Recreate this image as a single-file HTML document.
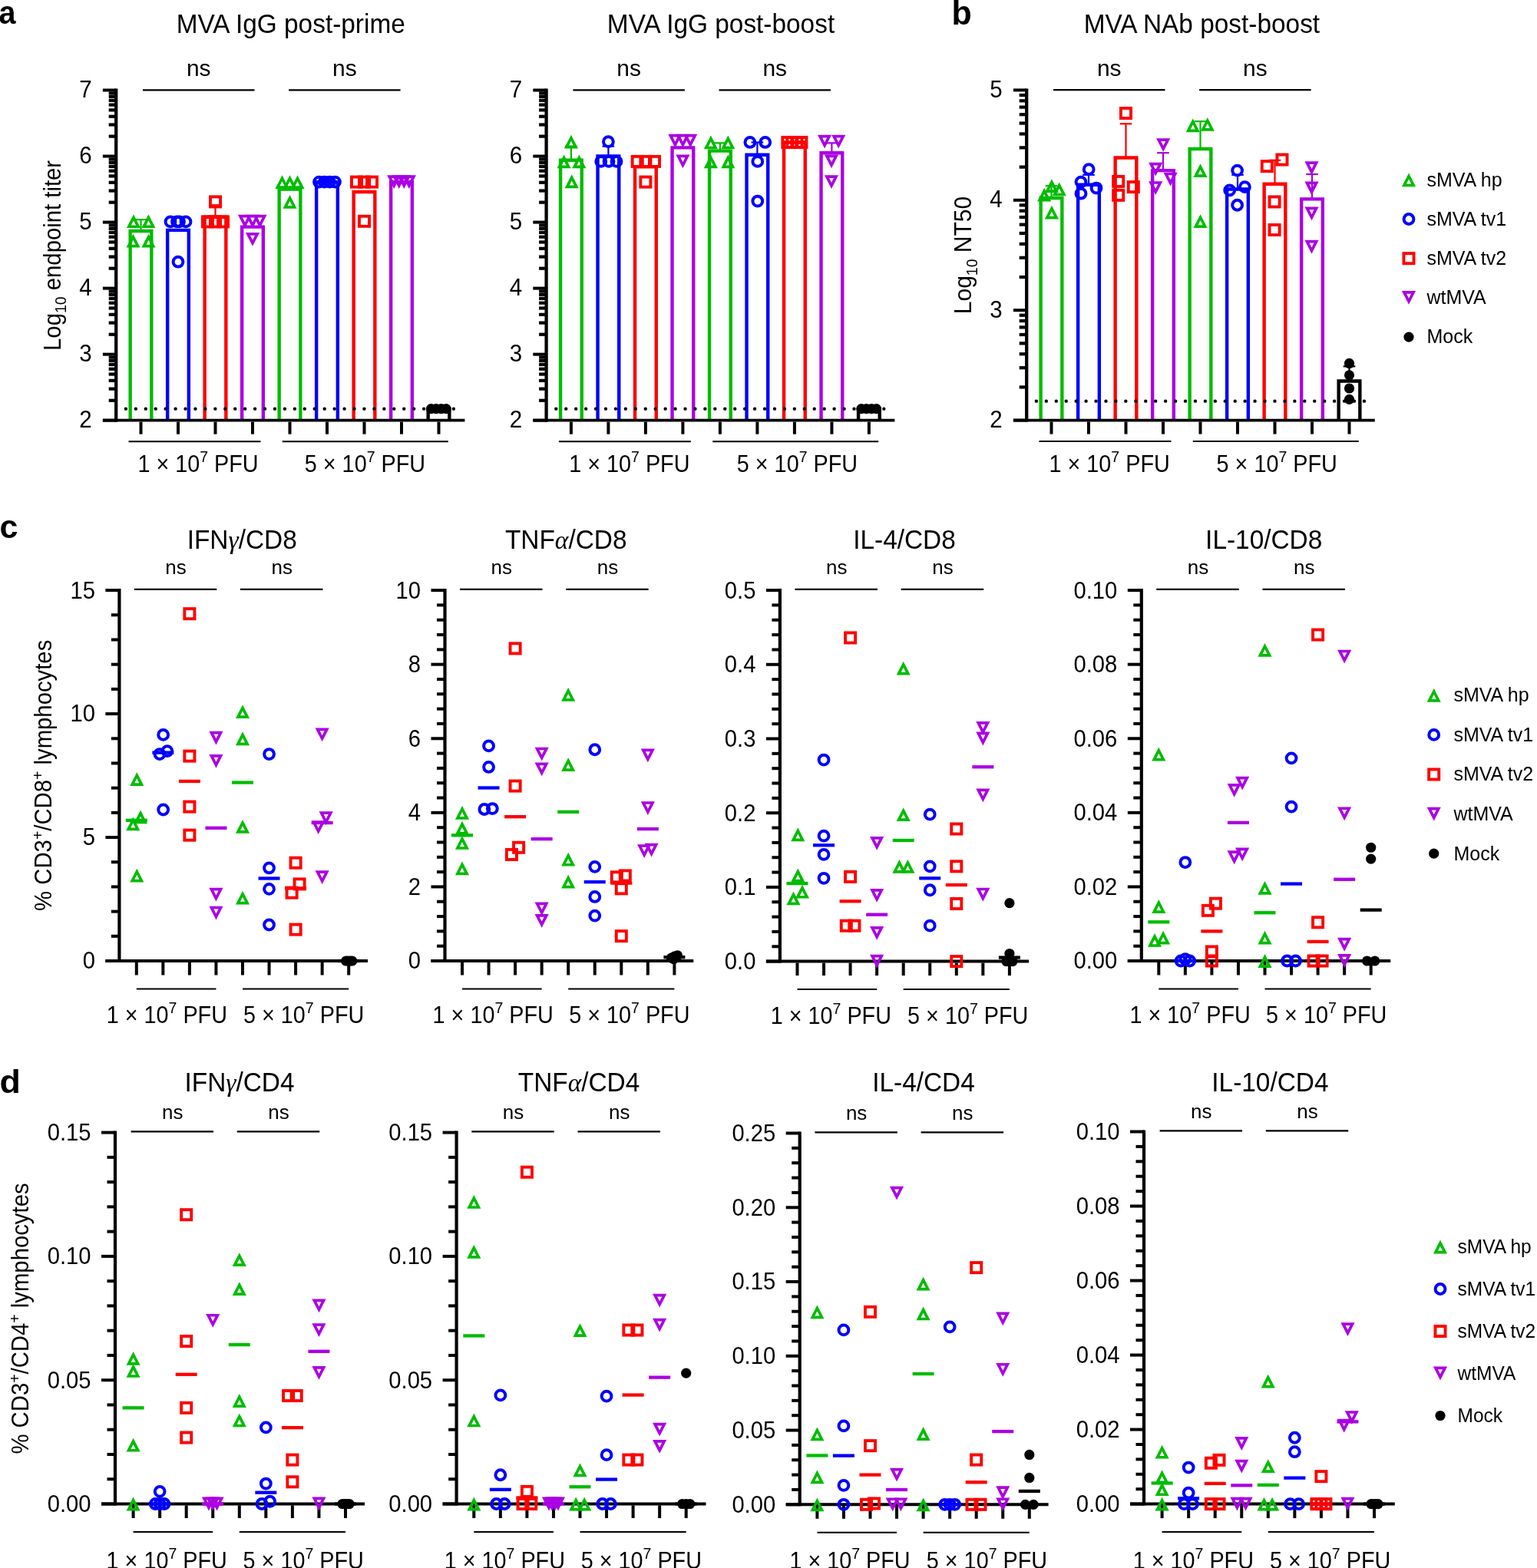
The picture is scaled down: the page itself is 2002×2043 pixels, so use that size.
<!DOCTYPE html>
<html><head><meta charset="utf-8"><title>Figure</title><style>html,body{margin:0;padding:0;background:#fff;}svg{display:block;}</style></head><body>
<svg width="2002" height="2043" viewBox="0 0 2002 2043" font-family="'Liberation Sans', Arial, Helvetica, sans-serif"><rect width="100%" height="100%" fill="#fff"/><path d="M169.65 547.7V300.94H197.35V547.7" fill="none" stroke="#00bc00" stroke-width="4.4" stroke-linejoin="miter"/>
<line x1="183.5" y1="300.94" x2="183.5" y2="286.14" stroke="#00bc00" stroke-width="2.2"/>
<line x1="175.7" y1="286.14" x2="191.3" y2="286.14" stroke="#00bc00" stroke-width="2.2"/>
<path d="M218.15 547.7V299.9H245.85V547.7" fill="none" stroke="#0000ff" stroke-width="4.4" stroke-linejoin="miter"/>
<path d="M266.65 547.7V282.7H294.35V547.7" fill="none" stroke="#ff0000" stroke-width="4.4" stroke-linejoin="miter"/>
<line x1="280.5" y1="282.7" x2="280.5" y2="267.21" stroke="#ff0000" stroke-width="2.2"/>
<line x1="272.7" y1="267.21" x2="288.3" y2="267.21" stroke="#ff0000" stroke-width="2.2"/>
<path d="M315.15 547.7V295.6H342.85V547.7" fill="none" stroke="#ab00e4" stroke-width="4.4" stroke-linejoin="miter"/>
<path d="M363.65 547.7V246.56H391.35V547.7" fill="none" stroke="#00bc00" stroke-width="4.4" stroke-linejoin="miter"/>
<path d="M412.15 547.7V237.1H439.85V547.7" fill="none" stroke="#0000ff" stroke-width="4.4" stroke-linejoin="miter"/>
<path d="M460.65 547.7V250H488.35V547.7" fill="none" stroke="#ff0000" stroke-width="4.4" stroke-linejoin="miter"/>
<path d="M509.15 547.7V237.1H536.85V547.7" fill="none" stroke="#ab00e4" stroke-width="4.4" stroke-linejoin="miter"/>
<path d="M557.65 547.7V532.64H585.35V547.7" fill="none" stroke="#000000" stroke-width="4.4" stroke-linejoin="miter"/>
<line x1="163.9" y1="532.64" x2="592.2" y2="532.64" stroke="#000000" stroke-width="4.4" stroke-linecap="round" stroke-dasharray="0 12.94"/>
<polygon points="174,283.37 167.92,295.25 180.08,295.25" fill="none" stroke="#00bc00" stroke-width="3.7"/>
<polygon points="193.4,283.37 187.32,295.25 199.48,295.25" fill="none" stroke="#00bc00" stroke-width="3.7"/>
<polygon points="173.5,308.84 167.42,320.72 179.58,320.72" fill="none" stroke="#00bc00" stroke-width="3.7"/>
<polygon points="193.5,308.84 187.42,320.72 199.58,320.72" fill="none" stroke="#00bc00" stroke-width="3.7"/>
<circle cx="222" cy="288.89" r="6.4" fill="none" stroke="#0000ff" stroke-width="4"/>
<circle cx="230.5" cy="288.89" r="6.4" fill="none" stroke="#0000ff" stroke-width="4"/>
<circle cx="233.5" cy="288.89" r="6.4" fill="none" stroke="#0000ff" stroke-width="4"/>
<circle cx="242" cy="288.89" r="6.4" fill="none" stroke="#0000ff" stroke-width="4"/>
<circle cx="232" cy="341.2" r="6.4" fill="none" stroke="#0000ff" stroke-width="4"/>
<rect x="263.95" y="282.34" width="13.1" height="13.1" fill="none" stroke="#ff0000" stroke-width="3.9"/>
<rect x="273.95" y="282.34" width="13.1" height="13.1" fill="none" stroke="#ff0000" stroke-width="3.9"/>
<rect x="283.95" y="282.34" width="13.1" height="13.1" fill="none" stroke="#ff0000" stroke-width="3.9"/>
<rect x="273.95" y="256.36" width="13.1" height="13.1" fill="none" stroke="#ff0000" stroke-width="3.9"/>
<polygon points="319,293.55 312.92,281.67 325.08,281.67" fill="none" stroke="#ab00e4" stroke-width="3.7"/>
<polygon points="329,293.55 322.92,281.67 335.08,281.67" fill="none" stroke="#ab00e4" stroke-width="3.7"/>
<polygon points="338.5,293.55 332.42,281.67 344.58,281.67" fill="none" stroke="#ab00e4" stroke-width="3.7"/>
<polygon points="329,316.78 322.92,304.9 335.08,304.9" fill="none" stroke="#ab00e4" stroke-width="3.7"/>
<polygon points="367.5,232.27 361.42,244.15 373.58,244.15" fill="none" stroke="#00bc00" stroke-width="3.7"/>
<polygon points="377.5,232.27 371.42,244.15 383.58,244.15" fill="none" stroke="#00bc00" stroke-width="3.7"/>
<polygon points="387.5,232.27 381.42,244.15 393.58,244.15" fill="none" stroke="#00bc00" stroke-width="3.7"/>
<polygon points="377.5,258.08 371.42,269.96 383.58,269.96" fill="none" stroke="#00bc00" stroke-width="3.7"/>
<circle cx="415.5" cy="237.1" r="6.4" fill="none" stroke="#0000ff" stroke-width="4"/>
<circle cx="422.5" cy="237.1" r="6.4" fill="none" stroke="#0000ff" stroke-width="4"/>
<circle cx="429.5" cy="237.1" r="6.4" fill="none" stroke="#0000ff" stroke-width="4"/>
<circle cx="436.5" cy="237.1" r="6.4" fill="none" stroke="#0000ff" stroke-width="4"/>
<rect x="457.95" y="230.55" width="13.1" height="13.1" fill="none" stroke="#ff0000" stroke-width="3.9"/>
<rect x="467.95" y="230.55" width="13.1" height="13.1" fill="none" stroke="#ff0000" stroke-width="3.9"/>
<rect x="477.95" y="230.55" width="13.1" height="13.1" fill="none" stroke="#ff0000" stroke-width="3.9"/>
<rect x="467.95" y="281.74" width="13.1" height="13.1" fill="none" stroke="#ff0000" stroke-width="3.9"/>
<polygon points="513.2,241.93 507.12,230.05 519.28,230.05" fill="none" stroke="#ab00e4" stroke-width="3.7"/>
<polygon points="519.7,241.93 513.62,230.05 525.78,230.05" fill="none" stroke="#ab00e4" stroke-width="3.7"/>
<polygon points="526.3,241.93 520.22,230.05 532.38,230.05" fill="none" stroke="#ab00e4" stroke-width="3.7"/>
<polygon points="532.8,241.93 526.72,230.05 538.88,230.05" fill="none" stroke="#ab00e4" stroke-width="3.7"/>
<circle cx="561.5" cy="532.64" r="6.6" fill="#000000"/>
<circle cx="568.1" cy="532.64" r="6.6" fill="#000000"/>
<circle cx="574.7" cy="532.64" r="6.6" fill="#000000"/>
<circle cx="581.1" cy="532.64" r="6.6" fill="#000000"/>
<line x1="151.2" y1="115.5" x2="151.2" y2="549.7" stroke="#000000" stroke-width="4.3"/>
<line x1="133.9" y1="547.7" x2="605.4" y2="547.7" stroke="#000000" stroke-width="3.8"/>
<line x1="133.9" y1="547.7" x2="151.2" y2="547.7" stroke="#000000" stroke-width="4"/>
<text transform="translate(119.7 557.3) scale(1 1.05)" font-size="29.5" text-anchor="end">2</text>
<line x1="141.7" y1="521.8" x2="151.2" y2="521.8" stroke="#000000" stroke-width="4.2"/>
<line x1="141.7" y1="506.65" x2="151.2" y2="506.65" stroke="#000000" stroke-width="4.2"/>
<line x1="141.7" y1="495.9" x2="151.2" y2="495.9" stroke="#000000" stroke-width="4.2"/>
<line x1="141.7" y1="487.56" x2="151.2" y2="487.56" stroke="#000000" stroke-width="4.2"/>
<line x1="141.7" y1="480.75" x2="151.2" y2="480.75" stroke="#000000" stroke-width="4.2"/>
<line x1="141.7" y1="474.99" x2="151.2" y2="474.99" stroke="#000000" stroke-width="4.2"/>
<line x1="141.7" y1="470" x2="151.2" y2="470" stroke="#000000" stroke-width="4.2"/>
<line x1="141.7" y1="465.6" x2="151.2" y2="465.6" stroke="#000000" stroke-width="4.2"/>
<line x1="133.9" y1="461.66" x2="151.2" y2="461.66" stroke="#000000" stroke-width="4"/>
<text transform="translate(119.7 471.26) scale(1 1.05)" font-size="29.5" text-anchor="end">3</text>
<line x1="141.7" y1="435.76" x2="151.2" y2="435.76" stroke="#000000" stroke-width="4.2"/>
<line x1="141.7" y1="420.61" x2="151.2" y2="420.61" stroke="#000000" stroke-width="4.2"/>
<line x1="141.7" y1="409.86" x2="151.2" y2="409.86" stroke="#000000" stroke-width="4.2"/>
<line x1="141.7" y1="401.52" x2="151.2" y2="401.52" stroke="#000000" stroke-width="4.2"/>
<line x1="141.7" y1="394.71" x2="151.2" y2="394.71" stroke="#000000" stroke-width="4.2"/>
<line x1="141.7" y1="388.95" x2="151.2" y2="388.95" stroke="#000000" stroke-width="4.2"/>
<line x1="141.7" y1="383.96" x2="151.2" y2="383.96" stroke="#000000" stroke-width="4.2"/>
<line x1="141.7" y1="379.56" x2="151.2" y2="379.56" stroke="#000000" stroke-width="4.2"/>
<line x1="133.9" y1="375.62" x2="151.2" y2="375.62" stroke="#000000" stroke-width="4"/>
<text transform="translate(119.7 385.22) scale(1 1.05)" font-size="29.5" text-anchor="end">4</text>
<line x1="141.7" y1="349.72" x2="151.2" y2="349.72" stroke="#000000" stroke-width="4.2"/>
<line x1="141.7" y1="334.57" x2="151.2" y2="334.57" stroke="#000000" stroke-width="4.2"/>
<line x1="141.7" y1="323.82" x2="151.2" y2="323.82" stroke="#000000" stroke-width="4.2"/>
<line x1="141.7" y1="315.48" x2="151.2" y2="315.48" stroke="#000000" stroke-width="4.2"/>
<line x1="141.7" y1="308.67" x2="151.2" y2="308.67" stroke="#000000" stroke-width="4.2"/>
<line x1="141.7" y1="302.91" x2="151.2" y2="302.91" stroke="#000000" stroke-width="4.2"/>
<line x1="141.7" y1="297.92" x2="151.2" y2="297.92" stroke="#000000" stroke-width="4.2"/>
<line x1="141.7" y1="293.52" x2="151.2" y2="293.52" stroke="#000000" stroke-width="4.2"/>
<line x1="133.9" y1="289.58" x2="151.2" y2="289.58" stroke="#000000" stroke-width="4"/>
<text transform="translate(119.7 299.18) scale(1 1.05)" font-size="29.5" text-anchor="end">5</text>
<line x1="141.7" y1="263.68" x2="151.2" y2="263.68" stroke="#000000" stroke-width="4.2"/>
<line x1="141.7" y1="248.53" x2="151.2" y2="248.53" stroke="#000000" stroke-width="4.2"/>
<line x1="141.7" y1="237.78" x2="151.2" y2="237.78" stroke="#000000" stroke-width="4.2"/>
<line x1="141.7" y1="229.44" x2="151.2" y2="229.44" stroke="#000000" stroke-width="4.2"/>
<line x1="141.7" y1="222.63" x2="151.2" y2="222.63" stroke="#000000" stroke-width="4.2"/>
<line x1="141.7" y1="216.87" x2="151.2" y2="216.87" stroke="#000000" stroke-width="4.2"/>
<line x1="141.7" y1="211.88" x2="151.2" y2="211.88" stroke="#000000" stroke-width="4.2"/>
<line x1="141.7" y1="207.48" x2="151.2" y2="207.48" stroke="#000000" stroke-width="4.2"/>
<line x1="133.9" y1="203.54" x2="151.2" y2="203.54" stroke="#000000" stroke-width="4"/>
<text transform="translate(119.7 213.14) scale(1 1.05)" font-size="29.5" text-anchor="end">6</text>
<line x1="141.7" y1="177.64" x2="151.2" y2="177.64" stroke="#000000" stroke-width="4.2"/>
<line x1="141.7" y1="162.49" x2="151.2" y2="162.49" stroke="#000000" stroke-width="4.2"/>
<line x1="141.7" y1="151.74" x2="151.2" y2="151.74" stroke="#000000" stroke-width="4.2"/>
<line x1="141.7" y1="143.4" x2="151.2" y2="143.4" stroke="#000000" stroke-width="4.2"/>
<line x1="141.7" y1="136.59" x2="151.2" y2="136.59" stroke="#000000" stroke-width="4.2"/>
<line x1="141.7" y1="130.83" x2="151.2" y2="130.83" stroke="#000000" stroke-width="4.2"/>
<line x1="141.7" y1="125.84" x2="151.2" y2="125.84" stroke="#000000" stroke-width="4.2"/>
<line x1="141.7" y1="121.44" x2="151.2" y2="121.44" stroke="#000000" stroke-width="4.2"/>
<line x1="133.9" y1="117.5" x2="151.2" y2="117.5" stroke="#000000" stroke-width="4"/>
<text transform="translate(119.7 127.1) scale(1 1.05)" font-size="29.5" text-anchor="end">7</text>
<line x1="183.5" y1="549.6" x2="183.5" y2="565.7" stroke="#000000" stroke-width="4"/>
<line x1="232" y1="549.6" x2="232" y2="565.7" stroke="#000000" stroke-width="4"/>
<line x1="280.5" y1="549.6" x2="280.5" y2="565.7" stroke="#000000" stroke-width="4"/>
<line x1="329" y1="549.6" x2="329" y2="565.7" stroke="#000000" stroke-width="4"/>
<line x1="377.5" y1="549.6" x2="377.5" y2="565.7" stroke="#000000" stroke-width="4"/>
<line x1="426" y1="549.6" x2="426" y2="565.7" stroke="#000000" stroke-width="4"/>
<line x1="474.5" y1="549.6" x2="474.5" y2="565.7" stroke="#000000" stroke-width="4"/>
<line x1="523" y1="549.6" x2="523" y2="565.7" stroke="#000000" stroke-width="4"/>
<line x1="571.5" y1="549.6" x2="571.5" y2="565.7" stroke="#000000" stroke-width="4"/>
<line x1="186" y1="117.3" x2="331.5" y2="117.3" stroke="#000000" stroke-width="2.2"/>
<text transform="translate(258.75 99) scale(1 1.01)" font-size="30" text-anchor="middle">ns</text>
<line x1="376.1" y1="117.3" x2="521.6" y2="117.3" stroke="#000000" stroke-width="2.2"/>
<text transform="translate(448.85 99) scale(1 1.01)" font-size="30" text-anchor="middle">ns</text>
<line x1="167.5" y1="575.2" x2="339.5" y2="575.2" stroke="#000000" stroke-width="2"/>
<line x1="367.8" y1="575.2" x2="583.8" y2="575.2" stroke="#000000" stroke-width="2"/>
<text transform="translate(179.4 615.2) scale(1 1.07)" font-size="28.8">1 × 10<tspan dy="-12" font-size="19.5">7</tspan><tspan dy="12"> PFU</tspan></text>
<text transform="translate(396.8 615.2) scale(1 1.07)" font-size="28.8">5 × 10<tspan dy="-12" font-size="19.5">7</tspan><tspan dy="12"> PFU</tspan></text>
<text transform="translate(378.7 42.8) scale(1 1.04)" font-size="33.4" text-anchor="middle">MVA IgG post-prime</text>
<path d="M730.05 547.7V208.7H757.75V547.7" fill="none" stroke="#00bc00" stroke-width="4.4" stroke-linejoin="miter"/>
<line x1="743.9" y1="208.7" x2="743.9" y2="190.63" stroke="#00bc00" stroke-width="2.2"/>
<line x1="736.1" y1="190.63" x2="751.7" y2="190.63" stroke="#00bc00" stroke-width="2.2"/>
<path d="M778.55 547.7V203.54H806.25V547.7" fill="none" stroke="#0000ff" stroke-width="4.4" stroke-linejoin="miter"/>
<line x1="792.4" y1="203.54" x2="792.4" y2="190.63" stroke="#0000ff" stroke-width="2.2"/>
<line x1="784.6" y1="190.63" x2="800.2" y2="190.63" stroke="#0000ff" stroke-width="2.2"/>
<path d="M827.05 547.7V217.31H854.75V547.7" fill="none" stroke="#ff0000" stroke-width="4.4" stroke-linejoin="miter"/>
<path d="M875.55 547.7V192.35H903.25V547.7" fill="none" stroke="#ab00e4" stroke-width="4.4" stroke-linejoin="miter"/>
<path d="M924.05 547.7V196.66H951.75V547.7" fill="none" stroke="#00bc00" stroke-width="4.4" stroke-linejoin="miter"/>
<line x1="937.9" y1="196.66" x2="937.9" y2="186.33" stroke="#00bc00" stroke-width="2.2"/>
<line x1="930.1" y1="186.33" x2="945.7" y2="186.33" stroke="#00bc00" stroke-width="2.2"/>
<path d="M972.55 547.7V201.82H1000.25V547.7" fill="none" stroke="#0000ff" stroke-width="4.4" stroke-linejoin="miter"/>
<line x1="986.4" y1="201.82" x2="986.4" y2="185.47" stroke="#0000ff" stroke-width="2.2"/>
<line x1="978.6" y1="185.47" x2="994.2" y2="185.47" stroke="#0000ff" stroke-width="2.2"/>
<path d="M1021.05 547.7V185.47H1048.75V547.7" fill="none" stroke="#ff0000" stroke-width="4.4" stroke-linejoin="miter"/>
<path d="M1069.55 547.7V199.24H1097.25V547.7" fill="none" stroke="#ab00e4" stroke-width="4.4" stroke-linejoin="miter"/>
<line x1="1083.4" y1="199.24" x2="1083.4" y2="186.33" stroke="#ab00e4" stroke-width="2.2"/>
<line x1="1075.6" y1="186.33" x2="1091.2" y2="186.33" stroke="#ab00e4" stroke-width="2.2"/>
<path d="M1118.05 547.7V532.64H1145.75V547.7" fill="none" stroke="#000000" stroke-width="4.4" stroke-linejoin="miter"/>
<line x1="724.3" y1="532.64" x2="1152.6" y2="532.64" stroke="#000000" stroke-width="4.4" stroke-linecap="round" stroke-dasharray="0 12.94"/>
<polygon points="743.9,179.78 737.82,191.66 749.98,191.66" fill="none" stroke="#00bc00" stroke-width="3.7"/>
<polygon points="734.6,205.59 728.52,217.47 740.68,217.47" fill="none" stroke="#00bc00" stroke-width="3.7"/>
<polygon points="754.3,205.59 748.22,217.47 760.38,217.47" fill="none" stroke="#00bc00" stroke-width="3.7"/>
<polygon points="744.7,231.41 738.62,243.29 750.78,243.29" fill="none" stroke="#00bc00" stroke-width="3.7"/>
<circle cx="792.4" cy="184.61" r="6.4" fill="none" stroke="#0000ff" stroke-width="4"/>
<circle cx="782.8" cy="210.42" r="6.4" fill="none" stroke="#0000ff" stroke-width="4"/>
<circle cx="793" cy="210.42" r="6.4" fill="none" stroke="#0000ff" stroke-width="4"/>
<circle cx="803" cy="210.42" r="6.4" fill="none" stroke="#0000ff" stroke-width="4"/>
<rect x="823.65" y="203.87" width="13.1" height="13.1" fill="none" stroke="#ff0000" stroke-width="3.9"/>
<rect x="834.35" y="203.87" width="13.1" height="13.1" fill="none" stroke="#ff0000" stroke-width="3.9"/>
<rect x="845.95" y="203.87" width="13.1" height="13.1" fill="none" stroke="#ff0000" stroke-width="3.9"/>
<rect x="834.35" y="230.55" width="13.1" height="13.1" fill="none" stroke="#ff0000" stroke-width="3.9"/>
<polygon points="879.4,188.58 873.32,176.7 885.48,176.7" fill="none" stroke="#ab00e4" stroke-width="3.7"/>
<polygon points="889.4,188.58 883.32,176.7 895.48,176.7" fill="none" stroke="#ab00e4" stroke-width="3.7"/>
<polygon points="899.2,188.58 893.12,176.7 905.28,176.7" fill="none" stroke="#ab00e4" stroke-width="3.7"/>
<polygon points="889.4,215.25 883.32,203.37 895.48,203.37" fill="none" stroke="#ab00e4" stroke-width="3.7"/>
<polygon points="925.9,180.64 919.82,192.52 931.98,192.52" fill="none" stroke="#00bc00" stroke-width="3.7"/>
<polygon points="948.3,180.64 942.22,192.52 954.38,192.52" fill="none" stroke="#00bc00" stroke-width="3.7"/>
<polygon points="925.9,205.59 919.82,217.47 931.98,217.47" fill="none" stroke="#00bc00" stroke-width="3.7"/>
<polygon points="948.3,205.59 942.22,217.47 954.38,217.47" fill="none" stroke="#00bc00" stroke-width="3.7"/>
<circle cx="976.9" cy="185.47" r="6.4" fill="none" stroke="#0000ff" stroke-width="4"/>
<circle cx="996.7" cy="185.47" r="6.4" fill="none" stroke="#0000ff" stroke-width="4"/>
<circle cx="986.8" cy="210.42" r="6.4" fill="none" stroke="#0000ff" stroke-width="4"/>
<circle cx="986.8" cy="262.05" r="6.4" fill="none" stroke="#0000ff" stroke-width="4"/>
<rect x="1019.35" y="178.92" width="13.1" height="13.1" fill="none" stroke="#ff0000" stroke-width="3.9"/>
<rect x="1025.35" y="178.92" width="13.1" height="13.1" fill="none" stroke="#ff0000" stroke-width="3.9"/>
<rect x="1031.35" y="178.92" width="13.1" height="13.1" fill="none" stroke="#ff0000" stroke-width="3.9"/>
<rect x="1037.35" y="178.92" width="13.1" height="13.1" fill="none" stroke="#ff0000" stroke-width="3.9"/>
<polygon points="1074.1,189.44 1068.02,177.56 1080.18,177.56" fill="none" stroke="#ab00e4" stroke-width="3.7"/>
<polygon points="1092.2,189.44 1086.12,177.56 1098.28,177.56" fill="none" stroke="#ab00e4" stroke-width="3.7"/>
<polygon points="1083,215.25 1076.92,203.37 1089.08,203.37" fill="none" stroke="#ab00e4" stroke-width="3.7"/>
<polygon points="1083,241.93 1076.92,230.05 1089.08,230.05" fill="none" stroke="#ab00e4" stroke-width="3.7"/>
<circle cx="1121.9" cy="532.64" r="6.6" fill="#000000"/>
<circle cx="1128.5" cy="532.64" r="6.6" fill="#000000"/>
<circle cx="1135.1" cy="532.64" r="6.6" fill="#000000"/>
<circle cx="1141.5" cy="532.64" r="6.6" fill="#000000"/>
<line x1="711.6" y1="115.5" x2="711.6" y2="549.7" stroke="#000000" stroke-width="4.3"/>
<line x1="694.3" y1="547.7" x2="1165.4" y2="547.7" stroke="#000000" stroke-width="3.8"/>
<line x1="694.3" y1="547.7" x2="711.6" y2="547.7" stroke="#000000" stroke-width="4"/>
<text transform="translate(680.1 557.3) scale(1 1.05)" font-size="29.5" text-anchor="end">2</text>
<line x1="702.1" y1="521.8" x2="711.6" y2="521.8" stroke="#000000" stroke-width="4.2"/>
<line x1="702.1" y1="506.65" x2="711.6" y2="506.65" stroke="#000000" stroke-width="4.2"/>
<line x1="702.1" y1="495.9" x2="711.6" y2="495.9" stroke="#000000" stroke-width="4.2"/>
<line x1="702.1" y1="487.56" x2="711.6" y2="487.56" stroke="#000000" stroke-width="4.2"/>
<line x1="702.1" y1="480.75" x2="711.6" y2="480.75" stroke="#000000" stroke-width="4.2"/>
<line x1="702.1" y1="474.99" x2="711.6" y2="474.99" stroke="#000000" stroke-width="4.2"/>
<line x1="702.1" y1="470" x2="711.6" y2="470" stroke="#000000" stroke-width="4.2"/>
<line x1="702.1" y1="465.6" x2="711.6" y2="465.6" stroke="#000000" stroke-width="4.2"/>
<line x1="694.3" y1="461.66" x2="711.6" y2="461.66" stroke="#000000" stroke-width="4"/>
<text transform="translate(680.1 471.26) scale(1 1.05)" font-size="29.5" text-anchor="end">3</text>
<line x1="702.1" y1="435.76" x2="711.6" y2="435.76" stroke="#000000" stroke-width="4.2"/>
<line x1="702.1" y1="420.61" x2="711.6" y2="420.61" stroke="#000000" stroke-width="4.2"/>
<line x1="702.1" y1="409.86" x2="711.6" y2="409.86" stroke="#000000" stroke-width="4.2"/>
<line x1="702.1" y1="401.52" x2="711.6" y2="401.52" stroke="#000000" stroke-width="4.2"/>
<line x1="702.1" y1="394.71" x2="711.6" y2="394.71" stroke="#000000" stroke-width="4.2"/>
<line x1="702.1" y1="388.95" x2="711.6" y2="388.95" stroke="#000000" stroke-width="4.2"/>
<line x1="702.1" y1="383.96" x2="711.6" y2="383.96" stroke="#000000" stroke-width="4.2"/>
<line x1="702.1" y1="379.56" x2="711.6" y2="379.56" stroke="#000000" stroke-width="4.2"/>
<line x1="694.3" y1="375.62" x2="711.6" y2="375.62" stroke="#000000" stroke-width="4"/>
<text transform="translate(680.1 385.22) scale(1 1.05)" font-size="29.5" text-anchor="end">4</text>
<line x1="702.1" y1="349.72" x2="711.6" y2="349.72" stroke="#000000" stroke-width="4.2"/>
<line x1="702.1" y1="334.57" x2="711.6" y2="334.57" stroke="#000000" stroke-width="4.2"/>
<line x1="702.1" y1="323.82" x2="711.6" y2="323.82" stroke="#000000" stroke-width="4.2"/>
<line x1="702.1" y1="315.48" x2="711.6" y2="315.48" stroke="#000000" stroke-width="4.2"/>
<line x1="702.1" y1="308.67" x2="711.6" y2="308.67" stroke="#000000" stroke-width="4.2"/>
<line x1="702.1" y1="302.91" x2="711.6" y2="302.91" stroke="#000000" stroke-width="4.2"/>
<line x1="702.1" y1="297.92" x2="711.6" y2="297.92" stroke="#000000" stroke-width="4.2"/>
<line x1="702.1" y1="293.52" x2="711.6" y2="293.52" stroke="#000000" stroke-width="4.2"/>
<line x1="694.3" y1="289.58" x2="711.6" y2="289.58" stroke="#000000" stroke-width="4"/>
<text transform="translate(680.1 299.18) scale(1 1.05)" font-size="29.5" text-anchor="end">5</text>
<line x1="702.1" y1="263.68" x2="711.6" y2="263.68" stroke="#000000" stroke-width="4.2"/>
<line x1="702.1" y1="248.53" x2="711.6" y2="248.53" stroke="#000000" stroke-width="4.2"/>
<line x1="702.1" y1="237.78" x2="711.6" y2="237.78" stroke="#000000" stroke-width="4.2"/>
<line x1="702.1" y1="229.44" x2="711.6" y2="229.44" stroke="#000000" stroke-width="4.2"/>
<line x1="702.1" y1="222.63" x2="711.6" y2="222.63" stroke="#000000" stroke-width="4.2"/>
<line x1="702.1" y1="216.87" x2="711.6" y2="216.87" stroke="#000000" stroke-width="4.2"/>
<line x1="702.1" y1="211.88" x2="711.6" y2="211.88" stroke="#000000" stroke-width="4.2"/>
<line x1="702.1" y1="207.48" x2="711.6" y2="207.48" stroke="#000000" stroke-width="4.2"/>
<line x1="694.3" y1="203.54" x2="711.6" y2="203.54" stroke="#000000" stroke-width="4"/>
<text transform="translate(680.1 213.14) scale(1 1.05)" font-size="29.5" text-anchor="end">6</text>
<line x1="702.1" y1="177.64" x2="711.6" y2="177.64" stroke="#000000" stroke-width="4.2"/>
<line x1="702.1" y1="162.49" x2="711.6" y2="162.49" stroke="#000000" stroke-width="4.2"/>
<line x1="702.1" y1="151.74" x2="711.6" y2="151.74" stroke="#000000" stroke-width="4.2"/>
<line x1="702.1" y1="143.4" x2="711.6" y2="143.4" stroke="#000000" stroke-width="4.2"/>
<line x1="702.1" y1="136.59" x2="711.6" y2="136.59" stroke="#000000" stroke-width="4.2"/>
<line x1="702.1" y1="130.83" x2="711.6" y2="130.83" stroke="#000000" stroke-width="4.2"/>
<line x1="702.1" y1="125.84" x2="711.6" y2="125.84" stroke="#000000" stroke-width="4.2"/>
<line x1="702.1" y1="121.44" x2="711.6" y2="121.44" stroke="#000000" stroke-width="4.2"/>
<line x1="694.3" y1="117.5" x2="711.6" y2="117.5" stroke="#000000" stroke-width="4"/>
<text transform="translate(680.1 127.1) scale(1 1.05)" font-size="29.5" text-anchor="end">7</text>
<line x1="743.9" y1="549.6" x2="743.9" y2="565.7" stroke="#000000" stroke-width="4"/>
<line x1="792.4" y1="549.6" x2="792.4" y2="565.7" stroke="#000000" stroke-width="4"/>
<line x1="840.9" y1="549.6" x2="840.9" y2="565.7" stroke="#000000" stroke-width="4"/>
<line x1="889.4" y1="549.6" x2="889.4" y2="565.7" stroke="#000000" stroke-width="4"/>
<line x1="937.9" y1="549.6" x2="937.9" y2="565.7" stroke="#000000" stroke-width="4"/>
<line x1="986.4" y1="549.6" x2="986.4" y2="565.7" stroke="#000000" stroke-width="4"/>
<line x1="1034.9" y1="549.6" x2="1034.9" y2="565.7" stroke="#000000" stroke-width="4"/>
<line x1="1083.4" y1="549.6" x2="1083.4" y2="565.7" stroke="#000000" stroke-width="4"/>
<line x1="1131.9" y1="549.6" x2="1131.9" y2="565.7" stroke="#000000" stroke-width="4"/>
<line x1="746.4" y1="117.3" x2="891.9" y2="117.3" stroke="#000000" stroke-width="2.2"/>
<text transform="translate(819.15 99) scale(1 1.01)" font-size="30" text-anchor="middle">ns</text>
<line x1="936.5" y1="117.3" x2="1082" y2="117.3" stroke="#000000" stroke-width="2.2"/>
<text transform="translate(1009.25 99) scale(1 1.01)" font-size="30" text-anchor="middle">ns</text>
<line x1="727.9" y1="575.2" x2="899.9" y2="575.2" stroke="#000000" stroke-width="2"/>
<line x1="928.2" y1="575.2" x2="1144.2" y2="575.2" stroke="#000000" stroke-width="2"/>
<text transform="translate(741.2 615.2) scale(1 1.07)" font-size="28.8">1 × 10<tspan dy="-12" font-size="19.5">7</tspan><tspan dy="12"> PFU</tspan></text>
<text transform="translate(959.8 615.2) scale(1 1.07)" font-size="28.8">5 × 10<tspan dy="-12" font-size="19.5">7</tspan><tspan dy="12"> PFU</tspan></text>
<text transform="translate(939 42.8) scale(1 1.04)" font-size="33.4" text-anchor="middle">MVA IgG post-boost</text>
<path d="M1355.65 547.6V257.93H1383.35V547.6" fill="none" stroke="#00bc00" stroke-width="4.4" stroke-linejoin="miter"/>
<line x1="1369.5" y1="257.93" x2="1369.5" y2="242.16" stroke="#00bc00" stroke-width="2.2"/>
<line x1="1361.7" y1="242.16" x2="1377.3" y2="242.16" stroke="#00bc00" stroke-width="2.2"/>
<path d="M1404.15 547.6V240.72H1431.85V547.6" fill="none" stroke="#0000ff" stroke-width="4.4" stroke-linejoin="miter"/>
<line x1="1418" y1="240.72" x2="1418" y2="227.82" stroke="#0000ff" stroke-width="2.2"/>
<line x1="1410.2" y1="227.82" x2="1425.8" y2="227.82" stroke="#0000ff" stroke-width="2.2"/>
<path d="M1452.65 547.6V205.45H1480.35V547.6" fill="none" stroke="#ff0000" stroke-width="4.4" stroke-linejoin="miter"/>
<line x1="1466.5" y1="205.45" x2="1466.5" y2="161.28" stroke="#ff0000" stroke-width="2.2"/>
<line x1="1458.7" y1="161.28" x2="1474.3" y2="161.28" stroke="#ff0000" stroke-width="2.2"/>
<path d="M1501.15 547.6V222.08H1528.85V547.6" fill="none" stroke="#ab00e4" stroke-width="4.4" stroke-linejoin="miter"/>
<line x1="1515" y1="222.08" x2="1515" y2="199.14" stroke="#ab00e4" stroke-width="2.2"/>
<line x1="1507.2" y1="199.14" x2="1522.8" y2="199.14" stroke="#ab00e4" stroke-width="2.2"/>
<path d="M1549.65 547.6V193.98H1577.35V547.6" fill="none" stroke="#00bc00" stroke-width="4.4" stroke-linejoin="miter"/>
<line x1="1563.5" y1="193.98" x2="1563.5" y2="158.13" stroke="#00bc00" stroke-width="2.2"/>
<line x1="1555.7" y1="158.13" x2="1571.3" y2="158.13" stroke="#00bc00" stroke-width="2.2"/>
<path d="M1598.15 547.6V246.46H1625.85V547.6" fill="none" stroke="#0000ff" stroke-width="4.4" stroke-linejoin="miter"/>
<line x1="1612" y1="246.46" x2="1612" y2="227.82" stroke="#0000ff" stroke-width="2.2"/>
<line x1="1604.2" y1="227.82" x2="1619.8" y2="227.82" stroke="#0000ff" stroke-width="2.2"/>
<path d="M1646.65 547.6V239.72H1674.35V547.6" fill="none" stroke="#ff0000" stroke-width="4.4" stroke-linejoin="miter"/>
<line x1="1660.5" y1="239.72" x2="1660.5" y2="208.75" stroke="#ff0000" stroke-width="2.2"/>
<line x1="1652.7" y1="208.75" x2="1668.3" y2="208.75" stroke="#ff0000" stroke-width="2.2"/>
<path d="M1695.15 547.6V259.37H1722.85V547.6" fill="none" stroke="#ab00e4" stroke-width="4.4" stroke-linejoin="miter"/>
<line x1="1709" y1="259.37" x2="1709" y2="226.96" stroke="#ab00e4" stroke-width="2.2"/>
<line x1="1701.2" y1="226.96" x2="1716.8" y2="226.96" stroke="#ab00e4" stroke-width="2.2"/>
<path d="M1743.65 547.6V496.55H1771.35V547.6" fill="none" stroke="#000000" stroke-width="4.4" stroke-linejoin="miter"/>
<line x1="1757.5" y1="496.55" x2="1757.5" y2="477.33" stroke="#000000" stroke-width="2.2"/>
<line x1="1749.7" y1="477.33" x2="1765.3" y2="477.33" stroke="#000000" stroke-width="2.2"/>
<line x1="1349.9" y1="522.65" x2="1778.2" y2="522.65" stroke="#000000" stroke-width="4.4" stroke-linecap="round" stroke-dasharray="0 12.94"/>
<polygon points="1369.9,237.33 1363.82,249.21 1375.98,249.21" fill="none" stroke="#00bc00" stroke-width="3.7"/>
<polygon points="1360.2,248.8 1354.12,260.68 1366.28,260.68" fill="none" stroke="#00bc00" stroke-width="3.7"/>
<polygon points="1379.7,241.63 1373.62,253.51 1385.78,253.51" fill="none" stroke="#00bc00" stroke-width="3.7"/>
<polygon points="1369.9,271.74 1363.82,283.62 1375.98,283.62" fill="none" stroke="#00bc00" stroke-width="3.7"/>
<circle cx="1418.2" cy="220.65" r="6.4" fill="none" stroke="#0000ff" stroke-width="4"/>
<circle cx="1408" cy="237.14" r="6.4" fill="none" stroke="#0000ff" stroke-width="4"/>
<circle cx="1428" cy="245.03" r="6.4" fill="none" stroke="#0000ff" stroke-width="4"/>
<circle cx="1408" cy="252.2" r="6.4" fill="none" stroke="#0000ff" stroke-width="4"/>
<rect x="1459.95" y="140.96" width="13.1" height="13.1" fill="none" stroke="#ff0000" stroke-width="3.9"/>
<rect x="1450.15" y="229.87" width="13.1" height="13.1" fill="none" stroke="#ff0000" stroke-width="3.9"/>
<rect x="1469.75" y="237.04" width="13.1" height="13.1" fill="none" stroke="#ff0000" stroke-width="3.9"/>
<rect x="1450.15" y="247.8" width="13.1" height="13.1" fill="none" stroke="#ff0000" stroke-width="3.9"/>
<polygon points="1515.2,193.93 1509.12,182.05 1521.28,182.05" fill="none" stroke="#ab00e4" stroke-width="3.7"/>
<polygon points="1505.2,225.48 1499.12,213.6 1511.28,213.6" fill="none" stroke="#ab00e4" stroke-width="3.7"/>
<polygon points="1524.6,238.38 1518.52,226.5 1530.68,226.5" fill="none" stroke="#ab00e4" stroke-width="3.7"/>
<polygon points="1505.2,249.86 1499.12,237.98 1511.28,237.98" fill="none" stroke="#ab00e4" stroke-width="3.7"/>
<polygon points="1553.8,158.46 1547.72,170.34 1559.88,170.34" fill="none" stroke="#00bc00" stroke-width="3.7"/>
<polygon points="1572.8,157.02 1566.72,168.9 1578.88,168.9" fill="none" stroke="#00bc00" stroke-width="3.7"/>
<polygon points="1563.5,217.25 1557.42,229.13 1569.58,229.13" fill="none" stroke="#00bc00" stroke-width="3.7"/>
<polygon points="1563.5,283.22 1557.42,295.1 1569.58,295.1" fill="none" stroke="#00bc00" stroke-width="3.7"/>
<circle cx="1611.6" cy="222.08" r="6.4" fill="none" stroke="#0000ff" stroke-width="4"/>
<circle cx="1601.7" cy="247.89" r="6.4" fill="none" stroke="#0000ff" stroke-width="4"/>
<circle cx="1621.4" cy="243.59" r="6.4" fill="none" stroke="#0000ff" stroke-width="4"/>
<circle cx="1611.6" cy="267.25" r="6.4" fill="none" stroke="#0000ff" stroke-width="4"/>
<rect x="1663.45" y="201.48" width="13.1" height="13.1" fill="none" stroke="#ff0000" stroke-width="3.9"/>
<rect x="1643.75" y="210.08" width="13.1" height="13.1" fill="none" stroke="#ff0000" stroke-width="3.9"/>
<rect x="1653.55" y="256.4" width="13.1" height="13.1" fill="none" stroke="#ff0000" stroke-width="3.9"/>
<rect x="1653.55" y="292.97" width="13.1" height="13.1" fill="none" stroke="#ff0000" stroke-width="3.9"/>
<polygon points="1708.5,224.04 1702.42,212.16 1714.58,212.16" fill="none" stroke="#ab00e4" stroke-width="3.7"/>
<polygon points="1708.5,250.29 1702.42,238.41 1714.58,238.41" fill="none" stroke="#ab00e4" stroke-width="3.7"/>
<polygon points="1708.5,283.27 1702.42,271.39 1714.58,271.39" fill="none" stroke="#ab00e4" stroke-width="3.7"/>
<polygon points="1708.5,326.57 1702.42,314.69 1714.58,314.69" fill="none" stroke="#ab00e4" stroke-width="3.7"/>
<circle cx="1757.5" cy="473.46" r="6.6" fill="#000000"/>
<circle cx="1757.5" cy="488.81" r="6.6" fill="#000000"/>
<circle cx="1757.5" cy="506.01" r="6.6" fill="#000000"/>
<circle cx="1757.5" cy="520.35" r="6.6" fill="#000000"/>
<line x1="1337.2" y1="115.4" x2="1337.2" y2="549.6" stroke="#000000" stroke-width="4.3"/>
<line x1="1319.9" y1="547.6" x2="1790.8" y2="547.6" stroke="#000000" stroke-width="3.8"/>
<line x1="1319.9" y1="547.6" x2="1337.2" y2="547.6" stroke="#000000" stroke-width="4"/>
<text transform="translate(1305.7 557.2) scale(1 1.05)" font-size="29.5" text-anchor="end">2</text>
<line x1="1327.7" y1="504.43" x2="1337.2" y2="504.43" stroke="#000000" stroke-width="4.2"/>
<line x1="1327.7" y1="479.18" x2="1337.2" y2="479.18" stroke="#000000" stroke-width="4.2"/>
<line x1="1327.7" y1="461.26" x2="1337.2" y2="461.26" stroke="#000000" stroke-width="4.2"/>
<line x1="1327.7" y1="447.37" x2="1337.2" y2="447.37" stroke="#000000" stroke-width="4.2"/>
<line x1="1327.7" y1="436.01" x2="1337.2" y2="436.01" stroke="#000000" stroke-width="4.2"/>
<line x1="1327.7" y1="426.41" x2="1337.2" y2="426.41" stroke="#000000" stroke-width="4.2"/>
<line x1="1327.7" y1="418.1" x2="1337.2" y2="418.1" stroke="#000000" stroke-width="4.2"/>
<line x1="1327.7" y1="410.76" x2="1337.2" y2="410.76" stroke="#000000" stroke-width="4.2"/>
<line x1="1319.9" y1="404.2" x2="1337.2" y2="404.2" stroke="#000000" stroke-width="4"/>
<text transform="translate(1305.7 413.8) scale(1 1.05)" font-size="29.5" text-anchor="end">3</text>
<line x1="1327.7" y1="361.03" x2="1337.2" y2="361.03" stroke="#000000" stroke-width="4.2"/>
<line x1="1327.7" y1="335.78" x2="1337.2" y2="335.78" stroke="#000000" stroke-width="4.2"/>
<line x1="1327.7" y1="317.86" x2="1337.2" y2="317.86" stroke="#000000" stroke-width="4.2"/>
<line x1="1327.7" y1="303.97" x2="1337.2" y2="303.97" stroke="#000000" stroke-width="4.2"/>
<line x1="1327.7" y1="292.61" x2="1337.2" y2="292.61" stroke="#000000" stroke-width="4.2"/>
<line x1="1327.7" y1="283.01" x2="1337.2" y2="283.01" stroke="#000000" stroke-width="4.2"/>
<line x1="1327.7" y1="274.7" x2="1337.2" y2="274.7" stroke="#000000" stroke-width="4.2"/>
<line x1="1327.7" y1="267.36" x2="1337.2" y2="267.36" stroke="#000000" stroke-width="4.2"/>
<line x1="1319.9" y1="260.8" x2="1337.2" y2="260.8" stroke="#000000" stroke-width="4"/>
<text transform="translate(1305.7 270.4) scale(1 1.05)" font-size="29.5" text-anchor="end">4</text>
<line x1="1327.7" y1="217.63" x2="1337.2" y2="217.63" stroke="#000000" stroke-width="4.2"/>
<line x1="1327.7" y1="192.38" x2="1337.2" y2="192.38" stroke="#000000" stroke-width="4.2"/>
<line x1="1327.7" y1="174.46" x2="1337.2" y2="174.46" stroke="#000000" stroke-width="4.2"/>
<line x1="1327.7" y1="160.57" x2="1337.2" y2="160.57" stroke="#000000" stroke-width="4.2"/>
<line x1="1327.7" y1="149.21" x2="1337.2" y2="149.21" stroke="#000000" stroke-width="4.2"/>
<line x1="1327.7" y1="139.61" x2="1337.2" y2="139.61" stroke="#000000" stroke-width="4.2"/>
<line x1="1327.7" y1="131.3" x2="1337.2" y2="131.3" stroke="#000000" stroke-width="4.2"/>
<line x1="1327.7" y1="123.96" x2="1337.2" y2="123.96" stroke="#000000" stroke-width="4.2"/>
<line x1="1319.9" y1="117.4" x2="1337.2" y2="117.4" stroke="#000000" stroke-width="4"/>
<text transform="translate(1305.7 127) scale(1 1.05)" font-size="29.5" text-anchor="end">5</text>
<line x1="1369.5" y1="549.5" x2="1369.5" y2="565.6" stroke="#000000" stroke-width="4"/>
<line x1="1418" y1="549.5" x2="1418" y2="565.6" stroke="#000000" stroke-width="4"/>
<line x1="1466.5" y1="549.5" x2="1466.5" y2="565.6" stroke="#000000" stroke-width="4"/>
<line x1="1515" y1="549.5" x2="1515" y2="565.6" stroke="#000000" stroke-width="4"/>
<line x1="1563.5" y1="549.5" x2="1563.5" y2="565.6" stroke="#000000" stroke-width="4"/>
<line x1="1612" y1="549.5" x2="1612" y2="565.6" stroke="#000000" stroke-width="4"/>
<line x1="1660.5" y1="549.5" x2="1660.5" y2="565.6" stroke="#000000" stroke-width="4"/>
<line x1="1709" y1="549.5" x2="1709" y2="565.6" stroke="#000000" stroke-width="4"/>
<line x1="1757.5" y1="549.5" x2="1757.5" y2="565.6" stroke="#000000" stroke-width="4"/>
<line x1="1372" y1="117.2" x2="1517.5" y2="117.2" stroke="#000000" stroke-width="2.2"/>
<text transform="translate(1444.75 99) scale(1 1.01)" font-size="30" text-anchor="middle">ns</text>
<line x1="1562.1" y1="117.2" x2="1707.6" y2="117.2" stroke="#000000" stroke-width="2.2"/>
<text transform="translate(1634.85 99) scale(1 1.01)" font-size="30" text-anchor="middle">ns</text>
<line x1="1353.5" y1="575.1" x2="1525.5" y2="575.1" stroke="#000000" stroke-width="2"/>
<line x1="1553.8" y1="575.1" x2="1769.8" y2="575.1" stroke="#000000" stroke-width="2"/>
<text transform="translate(1366.5 615.1) scale(1 1.07)" font-size="28.8">1 × 10<tspan dy="-12" font-size="19.5">7</tspan><tspan dy="12"> PFU</tspan></text>
<text transform="translate(1584.6 615.1) scale(1 1.07)" font-size="28.8">5 × 10<tspan dy="-12" font-size="19.5">7</tspan><tspan dy="12"> PFU</tspan></text>
<text transform="translate(1565.4 43.2) scale(1 1.04)" font-size="33.4" text-anchor="middle">MVA NAb post-boost</text>
<line x1="155.4" y1="767.1" x2="155.4" y2="1254" stroke="#000000" stroke-width="4.2"/>
<line x1="137.4" y1="1252" x2="479" y2="1252" stroke="#000000" stroke-width="4"/>
<line x1="137.4" y1="1252" x2="155.4" y2="1252" stroke="#000000" stroke-width="4"/>
<text transform="translate(123.9 1262.4) scale(1 1.05)" font-size="29.2" text-anchor="end">0</text>
<line x1="137.4" y1="1091.03" x2="155.4" y2="1091.03" stroke="#000000" stroke-width="4"/>
<text transform="translate(123.9 1101.43) scale(1 1.05)" font-size="29.2" text-anchor="end">5</text>
<line x1="137.4" y1="930.07" x2="155.4" y2="930.07" stroke="#000000" stroke-width="4"/>
<text transform="translate(123.9 940.47) scale(1 1.05)" font-size="29.2" text-anchor="end">10</text>
<line x1="137.4" y1="769.1" x2="155.4" y2="769.1" stroke="#000000" stroke-width="4"/>
<text transform="translate(123.9 779.5) scale(1 1.05)" font-size="29.2" text-anchor="end">15</text>
<line x1="144.9" y1="1219.81" x2="155.4" y2="1219.81" stroke="#000000" stroke-width="4"/>
<line x1="144.9" y1="1187.61" x2="155.4" y2="1187.61" stroke="#000000" stroke-width="4"/>
<line x1="144.9" y1="1155.42" x2="155.4" y2="1155.42" stroke="#000000" stroke-width="4"/>
<line x1="144.9" y1="1123.23" x2="155.4" y2="1123.23" stroke="#000000" stroke-width="4"/>
<line x1="144.9" y1="1058.84" x2="155.4" y2="1058.84" stroke="#000000" stroke-width="4"/>
<line x1="144.9" y1="1026.65" x2="155.4" y2="1026.65" stroke="#000000" stroke-width="4"/>
<line x1="144.9" y1="994.45" x2="155.4" y2="994.45" stroke="#000000" stroke-width="4"/>
<line x1="144.9" y1="962.26" x2="155.4" y2="962.26" stroke="#000000" stroke-width="4"/>
<line x1="144.9" y1="897.87" x2="155.4" y2="897.87" stroke="#000000" stroke-width="4"/>
<line x1="144.9" y1="865.68" x2="155.4" y2="865.68" stroke="#000000" stroke-width="4"/>
<line x1="144.9" y1="833.49" x2="155.4" y2="833.49" stroke="#000000" stroke-width="4"/>
<line x1="144.9" y1="801.29" x2="155.4" y2="801.29" stroke="#000000" stroke-width="4"/>
<line x1="177.8" y1="1253.9" x2="177.8" y2="1270.5" stroke="#000000" stroke-width="4"/>
<line x1="212.35" y1="1253.9" x2="212.35" y2="1270.5" stroke="#000000" stroke-width="4"/>
<line x1="246.9" y1="1253.9" x2="246.9" y2="1270.5" stroke="#000000" stroke-width="4"/>
<line x1="281.45" y1="1253.9" x2="281.45" y2="1270.5" stroke="#000000" stroke-width="4"/>
<line x1="316" y1="1253.9" x2="316" y2="1270.5" stroke="#000000" stroke-width="4"/>
<line x1="350.55" y1="1253.9" x2="350.55" y2="1270.5" stroke="#000000" stroke-width="4"/>
<line x1="385.1" y1="1253.9" x2="385.1" y2="1270.5" stroke="#000000" stroke-width="4"/>
<line x1="419.65" y1="1253.9" x2="419.65" y2="1270.5" stroke="#000000" stroke-width="4"/>
<line x1="454.2" y1="1253.9" x2="454.2" y2="1270.5" stroke="#000000" stroke-width="4"/>
<polygon points="178.3,1010.23 172.22,1022.11 184.38,1022.11" fill="none" stroke="#00bc00" stroke-width="3.7"/>
<polygon points="183,1059.48 176.92,1071.36 189.08,1071.36" fill="none" stroke="#00bc00" stroke-width="3.7"/>
<polygon points="173.3,1068.5 167.22,1080.38 179.38,1080.38" fill="none" stroke="#00bc00" stroke-width="3.7"/>
<polygon points="178.3,1135.78 172.22,1147.66 184.38,1147.66" fill="none" stroke="#00bc00" stroke-width="3.7"/>
<circle cx="212.65" cy="957.43" r="6.4" fill="none" stroke="#0000ff" stroke-width="4"/>
<circle cx="207.95" cy="982.54" r="6.4" fill="none" stroke="#0000ff" stroke-width="4"/>
<circle cx="217.85" cy="978.68" r="6.4" fill="none" stroke="#0000ff" stroke-width="4"/>
<circle cx="212.65" cy="1054.98" r="6.4" fill="none" stroke="#0000ff" stroke-width="4"/>
<rect x="240.35" y="793.13" width="13.1" height="13.1" fill="none" stroke="#ff0000" stroke-width="3.9"/>
<rect x="240.35" y="978.57" width="13.1" height="13.1" fill="none" stroke="#ff0000" stroke-width="3.9"/>
<rect x="240.35" y="1044.56" width="13.1" height="13.1" fill="none" stroke="#ff0000" stroke-width="3.9"/>
<rect x="240.35" y="1081.59" width="13.1" height="13.1" fill="none" stroke="#ff0000" stroke-width="3.9"/>
<polygon points="281.45,966.45 275.37,954.57 287.53,954.57" fill="none" stroke="#ab00e4" stroke-width="3.7"/>
<polygon points="281.45,996.71 275.37,984.83 287.53,984.83" fill="none" stroke="#ab00e4" stroke-width="3.7"/>
<polygon points="281.45,1170.55 275.37,1158.67 287.53,1158.67" fill="none" stroke="#ab00e4" stroke-width="3.7"/>
<polygon points="281.45,1194.37 275.37,1182.49 287.53,1182.49" fill="none" stroke="#ab00e4" stroke-width="3.7"/>
<polygon points="316,922.34 309.92,934.22 322.08,934.22" fill="none" stroke="#00bc00" stroke-width="3.7"/>
<polygon points="316,957.43 309.92,969.31 322.08,969.31" fill="none" stroke="#00bc00" stroke-width="3.7"/>
<polygon points="316,1072.04 309.92,1083.92 322.08,1083.92" fill="none" stroke="#00bc00" stroke-width="3.7"/>
<polygon points="316,1164.76 309.92,1176.64 322.08,1176.64" fill="none" stroke="#00bc00" stroke-width="3.7"/>
<circle cx="350.55" cy="982.54" r="6.4" fill="none" stroke="#0000ff" stroke-width="4"/>
<circle cx="350.55" cy="1130.95" r="6.4" fill="none" stroke="#0000ff" stroke-width="4"/>
<circle cx="350.55" cy="1158.32" r="6.4" fill="none" stroke="#0000ff" stroke-width="4"/>
<circle cx="350.55" cy="1205" r="6.4" fill="none" stroke="#0000ff" stroke-width="4"/>
<rect x="378.55" y="1117.64" width="13.1" height="13.1" fill="none" stroke="#ff0000" stroke-width="3.9"/>
<rect x="383.55" y="1145.33" width="13.1" height="13.1" fill="none" stroke="#ff0000" stroke-width="3.9"/>
<rect x="373.55" y="1156.6" width="13.1" height="13.1" fill="none" stroke="#ff0000" stroke-width="3.9"/>
<rect x="378.55" y="1204.56" width="13.1" height="13.1" fill="none" stroke="#ff0000" stroke-width="3.9"/>
<polygon points="419.65,962.26 413.57,950.38 425.73,950.38" fill="none" stroke="#ab00e4" stroke-width="3.7"/>
<polygon points="424.65,1071.07 418.57,1059.19 430.73,1059.19" fill="none" stroke="#ab00e4" stroke-width="3.7"/>
<polygon points="414.65,1082.99 408.57,1071.11 420.73,1071.11" fill="none" stroke="#ab00e4" stroke-width="3.7"/>
<polygon points="419.65,1148.02 413.57,1136.14 425.73,1136.14" fill="none" stroke="#ab00e4" stroke-width="3.7"/>
<circle cx="450.7" cy="1252" r="6.6" fill="#000000"/>
<circle cx="453.2" cy="1252" r="6.6" fill="#000000"/>
<circle cx="456.2" cy="1252" r="6.6" fill="#000000"/>
<circle cx="458.7" cy="1252" r="6.6" fill="#000000"/>
<line x1="163.8" y1="1068.82" x2="191.8" y2="1068.82" stroke="#00bc00" stroke-width="4.3"/>
<line x1="198.35" y1="980.61" x2="226.35" y2="980.61" stroke="#0000ff" stroke-width="4.3"/>
<line x1="232.9" y1="1017.95" x2="260.9" y2="1017.95" stroke="#ff0000" stroke-width="4.3"/>
<line x1="267.45" y1="1078.8" x2="295.45" y2="1078.8" stroke="#ab00e4" stroke-width="4.3"/>
<line x1="302" y1="1019.56" x2="330" y2="1019.56" stroke="#00bc00" stroke-width="4.3"/>
<line x1="336.55" y1="1144.47" x2="364.55" y2="1144.47" stroke="#0000ff" stroke-width="4.3"/>
<line x1="371.1" y1="1157.35" x2="399.1" y2="1157.35" stroke="#ff0000" stroke-width="4.3"/>
<line x1="405.65" y1="1072.04" x2="433.65" y2="1072.04" stroke="#ab00e4" stroke-width="4.3"/>
<line x1="440.2" y1="1252" x2="468.2" y2="1252" stroke="#000000" stroke-width="4.3"/>
<line x1="174.8" y1="767.9" x2="282.25" y2="767.9" stroke="#000000" stroke-width="2.3"/>
<text transform="translate(229.03 748.1) scale(1 0.96)" font-size="26" text-anchor="middle">ns</text>
<line x1="313" y1="767.9" x2="420.45" y2="767.9" stroke="#000000" stroke-width="2.3"/>
<text transform="translate(367.23 748.1) scale(1 0.96)" font-size="26" text-anchor="middle">ns</text>
<line x1="177.8" y1="1288.5" x2="281.45" y2="1288.5" stroke="#000000" stroke-width="2"/>
<line x1="316" y1="1288.5" x2="454.2" y2="1288.5" stroke="#000000" stroke-width="2"/>
<text transform="translate(138.7 1333.2) scale(1 1.07)" font-size="28.8">1 × 10<tspan dy="-12" font-size="19.5">7</tspan><tspan dy="12"> PFU</tspan></text>
<text transform="translate(317 1333.2) scale(1 1.07)" font-size="28.8">5 × 10<tspan dy="-12" font-size="19.5">7</tspan><tspan dy="12"> PFU</tspan></text>
<text transform="translate(315.2 715) scale(1 1.04)" font-size="33.4" text-anchor="middle">IFN<tspan font-family="Liberation Serif" font-style="italic">γ</tspan>/CD8</text>
<line x1="579.5" y1="767.1" x2="579.5" y2="1254" stroke="#000000" stroke-width="4.2"/>
<line x1="561.5" y1="1252" x2="903.3" y2="1252" stroke="#000000" stroke-width="4"/>
<line x1="561.5" y1="1252" x2="579.5" y2="1252" stroke="#000000" stroke-width="4"/>
<text transform="translate(548 1262.4) scale(1 1.05)" font-size="29.2" text-anchor="end">0</text>
<line x1="561.5" y1="1155.42" x2="579.5" y2="1155.42" stroke="#000000" stroke-width="4"/>
<text transform="translate(548 1165.82) scale(1 1.05)" font-size="29.2" text-anchor="end">2</text>
<line x1="561.5" y1="1058.84" x2="579.5" y2="1058.84" stroke="#000000" stroke-width="4"/>
<text transform="translate(548 1069.24) scale(1 1.05)" font-size="29.2" text-anchor="end">4</text>
<line x1="561.5" y1="962.26" x2="579.5" y2="962.26" stroke="#000000" stroke-width="4"/>
<text transform="translate(548 972.66) scale(1 1.05)" font-size="29.2" text-anchor="end">6</text>
<line x1="561.5" y1="865.68" x2="579.5" y2="865.68" stroke="#000000" stroke-width="4"/>
<text transform="translate(548 876.08) scale(1 1.05)" font-size="29.2" text-anchor="end">8</text>
<line x1="561.5" y1="769.1" x2="579.5" y2="769.1" stroke="#000000" stroke-width="4"/>
<text transform="translate(548 779.5) scale(1 1.05)" font-size="29.2" text-anchor="end">10</text>
<line x1="569" y1="1232.68" x2="579.5" y2="1232.68" stroke="#000000" stroke-width="4"/>
<line x1="569" y1="1213.37" x2="579.5" y2="1213.37" stroke="#000000" stroke-width="4"/>
<line x1="569" y1="1194.05" x2="579.5" y2="1194.05" stroke="#000000" stroke-width="4"/>
<line x1="569" y1="1174.74" x2="579.5" y2="1174.74" stroke="#000000" stroke-width="4"/>
<line x1="569" y1="1136.1" x2="579.5" y2="1136.1" stroke="#000000" stroke-width="4"/>
<line x1="569" y1="1116.79" x2="579.5" y2="1116.79" stroke="#000000" stroke-width="4"/>
<line x1="569" y1="1097.47" x2="579.5" y2="1097.47" stroke="#000000" stroke-width="4"/>
<line x1="569" y1="1078.16" x2="579.5" y2="1078.16" stroke="#000000" stroke-width="4"/>
<line x1="569" y1="1039.52" x2="579.5" y2="1039.52" stroke="#000000" stroke-width="4"/>
<line x1="569" y1="1020.21" x2="579.5" y2="1020.21" stroke="#000000" stroke-width="4"/>
<line x1="569" y1="1000.89" x2="579.5" y2="1000.89" stroke="#000000" stroke-width="4"/>
<line x1="569" y1="981.58" x2="579.5" y2="981.58" stroke="#000000" stroke-width="4"/>
<line x1="569" y1="942.94" x2="579.5" y2="942.94" stroke="#000000" stroke-width="4"/>
<line x1="569" y1="923.63" x2="579.5" y2="923.63" stroke="#000000" stroke-width="4"/>
<line x1="569" y1="904.31" x2="579.5" y2="904.31" stroke="#000000" stroke-width="4"/>
<line x1="569" y1="885" x2="579.5" y2="885" stroke="#000000" stroke-width="4"/>
<line x1="569" y1="846.36" x2="579.5" y2="846.36" stroke="#000000" stroke-width="4"/>
<line x1="569" y1="827.05" x2="579.5" y2="827.05" stroke="#000000" stroke-width="4"/>
<line x1="569" y1="807.73" x2="579.5" y2="807.73" stroke="#000000" stroke-width="4"/>
<line x1="569" y1="788.42" x2="579.5" y2="788.42" stroke="#000000" stroke-width="4"/>
<line x1="602" y1="1253.9" x2="602" y2="1270.5" stroke="#000000" stroke-width="4"/>
<line x1="636.55" y1="1253.9" x2="636.55" y2="1270.5" stroke="#000000" stroke-width="4"/>
<line x1="671.1" y1="1253.9" x2="671.1" y2="1270.5" stroke="#000000" stroke-width="4"/>
<line x1="705.65" y1="1253.9" x2="705.65" y2="1270.5" stroke="#000000" stroke-width="4"/>
<line x1="740.2" y1="1253.9" x2="740.2" y2="1270.5" stroke="#000000" stroke-width="4"/>
<line x1="774.75" y1="1253.9" x2="774.75" y2="1270.5" stroke="#000000" stroke-width="4"/>
<line x1="809.3" y1="1253.9" x2="809.3" y2="1270.5" stroke="#000000" stroke-width="4"/>
<line x1="843.85" y1="1253.9" x2="843.85" y2="1270.5" stroke="#000000" stroke-width="4"/>
<line x1="878.4" y1="1253.9" x2="878.4" y2="1270.5" stroke="#000000" stroke-width="4"/>
<polygon points="602,1054.01 595.92,1065.89 608.08,1065.89" fill="none" stroke="#00bc00" stroke-width="3.7"/>
<polygon points="602,1073.81 595.92,1085.69 608.08,1085.69" fill="none" stroke="#00bc00" stroke-width="3.7"/>
<polygon points="602,1093.12 595.92,1105 608.08,1105" fill="none" stroke="#00bc00" stroke-width="3.7"/>
<polygon points="602,1126.45 595.92,1138.33 608.08,1138.33" fill="none" stroke="#00bc00" stroke-width="3.7"/>
<circle cx="636.55" cy="971.92" r="6.4" fill="none" stroke="#0000ff" stroke-width="4"/>
<circle cx="636.55" cy="999.44" r="6.4" fill="none" stroke="#0000ff" stroke-width="4"/>
<circle cx="630.85" cy="1054.49" r="6.4" fill="none" stroke="#0000ff" stroke-width="4"/>
<circle cx="641.35" cy="1053.53" r="6.4" fill="none" stroke="#0000ff" stroke-width="4"/>
<rect x="664.55" y="838.37" width="13.1" height="13.1" fill="none" stroke="#ff0000" stroke-width="3.9"/>
<rect x="664.55" y="1017.52" width="13.1" height="13.1" fill="none" stroke="#ff0000" stroke-width="3.9"/>
<rect x="669.05" y="1097.68" width="13.1" height="13.1" fill="none" stroke="#ff0000" stroke-width="3.9"/>
<rect x="659.85" y="1106.86" width="13.1" height="13.1" fill="none" stroke="#ff0000" stroke-width="3.9"/>
<polygon points="705.65,987.37 699.57,975.49 711.73,975.49" fill="none" stroke="#ab00e4" stroke-width="3.7"/>
<polygon points="705.65,1007.17 699.57,995.29 711.73,995.29" fill="none" stroke="#ab00e4" stroke-width="3.7"/>
<polygon points="705.65,1189.22 699.57,1177.34 711.73,1177.34" fill="none" stroke="#ab00e4" stroke-width="3.7"/>
<polygon points="705.65,1204.68 699.57,1192.8 711.73,1192.8" fill="none" stroke="#ab00e4" stroke-width="3.7"/>
<polygon points="740.2,899.96 734.12,911.84 746.28,911.84" fill="none" stroke="#00bc00" stroke-width="3.7"/>
<polygon points="740.2,991.23 734.12,1003.11 746.28,1003.11" fill="none" stroke="#00bc00" stroke-width="3.7"/>
<polygon points="740.2,1114.86 734.12,1126.74 746.28,1126.74" fill="none" stroke="#00bc00" stroke-width="3.7"/>
<polygon points="740.2,1143.83 734.12,1155.71 746.28,1155.71" fill="none" stroke="#00bc00" stroke-width="3.7"/>
<circle cx="774.75" cy="976.75" r="6.4" fill="none" stroke="#0000ff" stroke-width="4"/>
<circle cx="774.75" cy="1129.34" r="6.4" fill="none" stroke="#0000ff" stroke-width="4"/>
<circle cx="774.75" cy="1168.46" r="6.4" fill="none" stroke="#0000ff" stroke-width="4"/>
<circle cx="774.75" cy="1193.09" r="6.4" fill="none" stroke="#0000ff" stroke-width="4"/>
<rect x="796.75" y="1136.31" width="13.1" height="13.1" fill="none" stroke="#ff0000" stroke-width="3.9"/>
<rect x="807.75" y="1134.38" width="13.1" height="13.1" fill="none" stroke="#ff0000" stroke-width="3.9"/>
<rect x="802.75" y="1151.28" width="13.1" height="13.1" fill="none" stroke="#ff0000" stroke-width="3.9"/>
<rect x="802.75" y="1213.1" width="13.1" height="13.1" fill="none" stroke="#ff0000" stroke-width="3.9"/>
<polygon points="843.85,989.3 837.77,977.42 849.93,977.42" fill="none" stroke="#ab00e4" stroke-width="3.7"/>
<polygon points="843.85,1057.88 837.77,1046 849.93,1046" fill="none" stroke="#ab00e4" stroke-width="3.7"/>
<polygon points="839.15,1113.89 833.07,1102.01 845.23,1102.01" fill="none" stroke="#ab00e4" stroke-width="3.7"/>
<polygon points="848.55,1112.44 842.47,1100.56 854.63,1100.56" fill="none" stroke="#ab00e4" stroke-width="3.7"/>
<circle cx="874.4" cy="1248.14" r="6.6" fill="#000000"/>
<circle cx="882.4" cy="1244.76" r="6.6" fill="#000000"/>
<circle cx="878.4" cy="1246.21" r="6.6" fill="#000000"/>
<circle cx="877.4" cy="1249.59" r="6.6" fill="#000000"/>
<line x1="588" y1="1088.3" x2="616" y2="1088.3" stroke="#00bc00" stroke-width="4.3"/>
<line x1="622.55" y1="1026.49" x2="650.55" y2="1026.49" stroke="#0000ff" stroke-width="4.3"/>
<line x1="657.1" y1="1064.15" x2="685.1" y2="1064.15" stroke="#ff0000" stroke-width="4.3"/>
<line x1="691.65" y1="1093.13" x2="719.65" y2="1093.13" stroke="#ab00e4" stroke-width="4.3"/>
<line x1="726.2" y1="1057.87" x2="754.2" y2="1057.87" stroke="#00bc00" stroke-width="4.3"/>
<line x1="760.75" y1="1149.14" x2="788.75" y2="1149.14" stroke="#0000ff" stroke-width="4.3"/>
<line x1="795.3" y1="1150.59" x2="823.3" y2="1150.59" stroke="#ff0000" stroke-width="4.3"/>
<line x1="829.85" y1="1080.09" x2="857.85" y2="1080.09" stroke="#ab00e4" stroke-width="4.3"/>
<line x1="864.4" y1="1247.17" x2="892.4" y2="1247.17" stroke="#000000" stroke-width="4.3"/>
<line x1="599" y1="767.9" x2="706.45" y2="767.9" stroke="#000000" stroke-width="2.3"/>
<text transform="translate(653.22 748.1) scale(1 0.96)" font-size="26" text-anchor="middle">ns</text>
<line x1="737.2" y1="767.9" x2="844.65" y2="767.9" stroke="#000000" stroke-width="2.3"/>
<text transform="translate(791.42 748.1) scale(1 0.96)" font-size="26" text-anchor="middle">ns</text>
<line x1="602" y1="1288.5" x2="705.65" y2="1288.5" stroke="#000000" stroke-width="2"/>
<line x1="740.2" y1="1288.5" x2="878.4" y2="1288.5" stroke="#000000" stroke-width="2"/>
<text transform="translate(563.6 1333.2) scale(1 1.07)" font-size="28.8">1 × 10<tspan dy="-12" font-size="19.5">7</tspan><tspan dy="12"> PFU</tspan></text>
<text transform="translate(741.2 1333.2) scale(1 1.07)" font-size="28.8">5 × 10<tspan dy="-12" font-size="19.5">7</tspan><tspan dy="12"> PFU</tspan></text>
<text transform="translate(737.2 715) scale(1 1.04)" font-size="33.4" text-anchor="middle">TNF<tspan font-family="Liberation Serif" font-style="italic">α</tspan>/CD8</text>
<line x1="1015.9" y1="767.1" x2="1015.9" y2="1254.6" stroke="#000000" stroke-width="4.2"/>
<line x1="997.9" y1="1252.6" x2="1340.2" y2="1252.6" stroke="#000000" stroke-width="4"/>
<line x1="997.9" y1="1252.6" x2="1015.9" y2="1252.6" stroke="#000000" stroke-width="4"/>
<text transform="translate(984.4 1263) scale(1 1.05)" font-size="29.2" text-anchor="end">0.0</text>
<line x1="997.9" y1="1155.9" x2="1015.9" y2="1155.9" stroke="#000000" stroke-width="4"/>
<text transform="translate(984.4 1166.3) scale(1 1.05)" font-size="29.2" text-anchor="end">0.1</text>
<line x1="997.9" y1="1059.2" x2="1015.9" y2="1059.2" stroke="#000000" stroke-width="4"/>
<text transform="translate(984.4 1069.6) scale(1 1.05)" font-size="29.2" text-anchor="end">0.2</text>
<line x1="997.9" y1="962.5" x2="1015.9" y2="962.5" stroke="#000000" stroke-width="4"/>
<text transform="translate(984.4 972.9) scale(1 1.05)" font-size="29.2" text-anchor="end">0.3</text>
<line x1="997.9" y1="865.8" x2="1015.9" y2="865.8" stroke="#000000" stroke-width="4"/>
<text transform="translate(984.4 876.2) scale(1 1.05)" font-size="29.2" text-anchor="end">0.4</text>
<line x1="997.9" y1="769.1" x2="1015.9" y2="769.1" stroke="#000000" stroke-width="4"/>
<text transform="translate(984.4 779.5) scale(1 1.05)" font-size="29.2" text-anchor="end">0.5</text>
<line x1="1005.4" y1="1233.26" x2="1015.9" y2="1233.26" stroke="#000000" stroke-width="4"/>
<line x1="1005.4" y1="1213.92" x2="1015.9" y2="1213.92" stroke="#000000" stroke-width="4"/>
<line x1="1005.4" y1="1194.58" x2="1015.9" y2="1194.58" stroke="#000000" stroke-width="4"/>
<line x1="1005.4" y1="1175.24" x2="1015.9" y2="1175.24" stroke="#000000" stroke-width="4"/>
<line x1="1005.4" y1="1136.56" x2="1015.9" y2="1136.56" stroke="#000000" stroke-width="4"/>
<line x1="1005.4" y1="1117.22" x2="1015.9" y2="1117.22" stroke="#000000" stroke-width="4"/>
<line x1="1005.4" y1="1097.88" x2="1015.9" y2="1097.88" stroke="#000000" stroke-width="4"/>
<line x1="1005.4" y1="1078.54" x2="1015.9" y2="1078.54" stroke="#000000" stroke-width="4"/>
<line x1="1005.4" y1="1039.86" x2="1015.9" y2="1039.86" stroke="#000000" stroke-width="4"/>
<line x1="1005.4" y1="1020.52" x2="1015.9" y2="1020.52" stroke="#000000" stroke-width="4"/>
<line x1="1005.4" y1="1001.18" x2="1015.9" y2="1001.18" stroke="#000000" stroke-width="4"/>
<line x1="1005.4" y1="981.84" x2="1015.9" y2="981.84" stroke="#000000" stroke-width="4"/>
<line x1="1005.4" y1="943.16" x2="1015.9" y2="943.16" stroke="#000000" stroke-width="4"/>
<line x1="1005.4" y1="923.82" x2="1015.9" y2="923.82" stroke="#000000" stroke-width="4"/>
<line x1="1005.4" y1="904.48" x2="1015.9" y2="904.48" stroke="#000000" stroke-width="4"/>
<line x1="1005.4" y1="885.14" x2="1015.9" y2="885.14" stroke="#000000" stroke-width="4"/>
<line x1="1005.4" y1="846.46" x2="1015.9" y2="846.46" stroke="#000000" stroke-width="4"/>
<line x1="1005.4" y1="827.12" x2="1015.9" y2="827.12" stroke="#000000" stroke-width="4"/>
<line x1="1005.4" y1="807.78" x2="1015.9" y2="807.78" stroke="#000000" stroke-width="4"/>
<line x1="1005.4" y1="788.44" x2="1015.9" y2="788.44" stroke="#000000" stroke-width="4"/>
<line x1="1038.5" y1="1254.5" x2="1038.5" y2="1271.1" stroke="#000000" stroke-width="4"/>
<line x1="1073.05" y1="1254.5" x2="1073.05" y2="1271.1" stroke="#000000" stroke-width="4"/>
<line x1="1107.6" y1="1254.5" x2="1107.6" y2="1271.1" stroke="#000000" stroke-width="4"/>
<line x1="1142.15" y1="1254.5" x2="1142.15" y2="1271.1" stroke="#000000" stroke-width="4"/>
<line x1="1176.7" y1="1254.5" x2="1176.7" y2="1271.1" stroke="#000000" stroke-width="4"/>
<line x1="1211.25" y1="1254.5" x2="1211.25" y2="1271.1" stroke="#000000" stroke-width="4"/>
<line x1="1245.8" y1="1254.5" x2="1245.8" y2="1271.1" stroke="#000000" stroke-width="4"/>
<line x1="1280.35" y1="1254.5" x2="1280.35" y2="1271.1" stroke="#000000" stroke-width="4"/>
<line x1="1314.9" y1="1254.5" x2="1314.9" y2="1271.1" stroke="#000000" stroke-width="4"/>
<polygon points="1039.3,1082.41 1033.22,1094.29 1045.38,1094.29" fill="none" stroke="#00bc00" stroke-width="3.7"/>
<polygon points="1039.3,1135.6 1033.22,1147.48 1045.38,1147.48" fill="none" stroke="#00bc00" stroke-width="3.7"/>
<polygon points="1045,1156.87 1038.92,1168.75 1051.08,1168.75" fill="none" stroke="#00bc00" stroke-width="3.7"/>
<polygon points="1033.5,1165.58 1027.42,1177.45 1039.58,1177.45" fill="none" stroke="#00bc00" stroke-width="3.7"/>
<circle cx="1073.05" cy="990.06" r="6.4" fill="none" stroke="#0000ff" stroke-width="4"/>
<circle cx="1073.05" cy="1089.18" r="6.4" fill="none" stroke="#0000ff" stroke-width="4"/>
<circle cx="1073.05" cy="1113.35" r="6.4" fill="none" stroke="#0000ff" stroke-width="4"/>
<circle cx="1073.05" cy="1144.3" r="6.4" fill="none" stroke="#0000ff" stroke-width="4"/>
<rect x="1101.05" y="824.44" width="13.1" height="13.1" fill="none" stroke="#ff0000" stroke-width="3.9"/>
<rect x="1101.05" y="1135.81" width="13.1" height="13.1" fill="none" stroke="#ff0000" stroke-width="3.9"/>
<rect x="1095.75" y="1199.63" width="13.1" height="13.1" fill="none" stroke="#ff0000" stroke-width="3.9"/>
<rect x="1106.35" y="1199.63" width="13.1" height="13.1" fill="none" stroke="#ff0000" stroke-width="3.9"/>
<polygon points="1142.15,1103.68 1136.07,1091.8 1148.23,1091.8" fill="none" stroke="#ab00e4" stroke-width="3.7"/>
<polygon points="1142.15,1171.75 1136.07,1159.87 1148.23,1159.87" fill="none" stroke="#ab00e4" stroke-width="3.7"/>
<polygon points="1142.15,1220.68 1136.07,1208.8 1148.23,1208.8" fill="none" stroke="#ab00e4" stroke-width="3.7"/>
<polygon points="1142.15,1257.43 1136.07,1245.55 1148.23,1245.55" fill="none" stroke="#ab00e4" stroke-width="3.7"/>
<polygon points="1176.7,865.8 1170.62,877.68 1182.78,877.68" fill="none" stroke="#00bc00" stroke-width="3.7"/>
<polygon points="1176.7,1056.3 1170.62,1068.18 1182.78,1068.18" fill="none" stroke="#00bc00" stroke-width="3.7"/>
<polygon points="1171.4,1123.99 1165.32,1135.87 1177.48,1135.87" fill="none" stroke="#00bc00" stroke-width="3.7"/>
<polygon points="1182.4,1123.99 1176.32,1135.87 1188.48,1135.87" fill="none" stroke="#00bc00" stroke-width="3.7"/>
<circle cx="1211.25" cy="1061.13" r="6.4" fill="none" stroke="#0000ff" stroke-width="4"/>
<circle cx="1211.25" cy="1128.82" r="6.4" fill="none" stroke="#0000ff" stroke-width="4"/>
<circle cx="1211.25" cy="1159.77" r="6.4" fill="none" stroke="#0000ff" stroke-width="4"/>
<circle cx="1211.25" cy="1206.18" r="6.4" fill="none" stroke="#0000ff" stroke-width="4"/>
<rect x="1239.25" y="1073.44" width="13.1" height="13.1" fill="none" stroke="#ff0000" stroke-width="3.9"/>
<rect x="1239.25" y="1122.27" width="13.1" height="13.1" fill="none" stroke="#ff0000" stroke-width="3.9"/>
<rect x="1239.25" y="1170.91" width="13.1" height="13.1" fill="none" stroke="#ff0000" stroke-width="3.9"/>
<rect x="1239.25" y="1246.05" width="13.1" height="13.1" fill="none" stroke="#ff0000" stroke-width="3.9"/>
<polygon points="1280.35,953.79 1274.27,941.91 1286.43,941.91" fill="none" stroke="#ab00e4" stroke-width="3.7"/>
<polygon points="1280.35,967.33 1274.27,955.45 1286.43,955.45" fill="none" stroke="#ab00e4" stroke-width="3.7"/>
<polygon points="1280.35,1041.21 1274.27,1029.33 1286.43,1029.33" fill="none" stroke="#ab00e4" stroke-width="3.7"/>
<polygon points="1280.35,1170.4 1274.27,1158.52 1286.43,1158.52" fill="none" stroke="#ab00e4" stroke-width="3.7"/>
<circle cx="1314.9" cy="1176.69" r="6.6" fill="#000000"/>
<circle cx="1314.9" cy="1242.54" r="6.6" fill="#000000"/>
<circle cx="1310.9" cy="1252.6" r="6.6" fill="#000000"/>
<circle cx="1318.9" cy="1252.6" r="6.6" fill="#000000"/>
<line x1="1024.5" y1="1151.07" x2="1052.5" y2="1151.07" stroke="#00bc00" stroke-width="4.3"/>
<line x1="1059.05" y1="1101.26" x2="1087.05" y2="1101.26" stroke="#0000ff" stroke-width="4.3"/>
<line x1="1093.6" y1="1174.27" x2="1121.6" y2="1174.27" stroke="#ff0000" stroke-width="4.3"/>
<line x1="1128.15" y1="1191.68" x2="1156.15" y2="1191.68" stroke="#ab00e4" stroke-width="4.3"/>
<line x1="1162.7" y1="1094.98" x2="1190.7" y2="1094.98" stroke="#00bc00" stroke-width="4.3"/>
<line x1="1197.25" y1="1144.3" x2="1225.25" y2="1144.3" stroke="#0000ff" stroke-width="4.3"/>
<line x1="1231.8" y1="1153" x2="1259.8" y2="1153" stroke="#ff0000" stroke-width="4.3"/>
<line x1="1266.35" y1="999.25" x2="1294.35" y2="999.25" stroke="#ab00e4" stroke-width="4.3"/>
<line x1="1300.9" y1="1247.57" x2="1328.9" y2="1247.57" stroke="#000000" stroke-width="4.3"/>
<line x1="1035.5" y1="767.9" x2="1142.95" y2="767.9" stroke="#000000" stroke-width="2.3"/>
<text transform="translate(1089.72 748.1) scale(1 0.96)" font-size="26" text-anchor="middle">ns</text>
<line x1="1173.7" y1="767.9" x2="1281.15" y2="767.9" stroke="#000000" stroke-width="2.3"/>
<text transform="translate(1227.92 748.1) scale(1 0.96)" font-size="26" text-anchor="middle">ns</text>
<line x1="1038.5" y1="1289.1" x2="1142.15" y2="1289.1" stroke="#000000" stroke-width="2"/>
<line x1="1176.7" y1="1289.1" x2="1314.9" y2="1289.1" stroke="#000000" stroke-width="2"/>
<text transform="translate(1003.7 1333.8) scale(1 1.07)" font-size="28.8">1 × 10<tspan dy="-12" font-size="19.5">7</tspan><tspan dy="12"> PFU</tspan></text>
<text transform="translate(1182.1 1333.8) scale(1 1.07)" font-size="28.8">5 × 10<tspan dy="-12" font-size="19.5">7</tspan><tspan dy="12"> PFU</tspan></text>
<text transform="translate(1178 715) scale(1 1.04)" font-size="33.4" text-anchor="middle">IL-4/CD8</text>
<line x1="1486.8" y1="767.1" x2="1486.8" y2="1254" stroke="#000000" stroke-width="4.2"/>
<line x1="1468.8" y1="1252" x2="1811.2" y2="1252" stroke="#000000" stroke-width="4"/>
<line x1="1468.8" y1="1252" x2="1486.8" y2="1252" stroke="#000000" stroke-width="4"/>
<text transform="translate(1455.3 1262.4) scale(1 1.05)" font-size="29.2" text-anchor="end">0.00</text>
<line x1="1468.8" y1="1155.42" x2="1486.8" y2="1155.42" stroke="#000000" stroke-width="4"/>
<text transform="translate(1455.3 1165.82) scale(1 1.05)" font-size="29.2" text-anchor="end">0.02</text>
<line x1="1468.8" y1="1058.84" x2="1486.8" y2="1058.84" stroke="#000000" stroke-width="4"/>
<text transform="translate(1455.3 1069.24) scale(1 1.05)" font-size="29.2" text-anchor="end">0.04</text>
<line x1="1468.8" y1="962.26" x2="1486.8" y2="962.26" stroke="#000000" stroke-width="4"/>
<text transform="translate(1455.3 972.66) scale(1 1.05)" font-size="29.2" text-anchor="end">0.06</text>
<line x1="1468.8" y1="865.68" x2="1486.8" y2="865.68" stroke="#000000" stroke-width="4"/>
<text transform="translate(1455.3 876.08) scale(1 1.05)" font-size="29.2" text-anchor="end">0.08</text>
<line x1="1468.8" y1="769.1" x2="1486.8" y2="769.1" stroke="#000000" stroke-width="4"/>
<text transform="translate(1455.3 779.5) scale(1 1.05)" font-size="29.2" text-anchor="end">0.10</text>
<line x1="1476.3" y1="1232.68" x2="1486.8" y2="1232.68" stroke="#000000" stroke-width="4"/>
<line x1="1476.3" y1="1213.37" x2="1486.8" y2="1213.37" stroke="#000000" stroke-width="4"/>
<line x1="1476.3" y1="1194.05" x2="1486.8" y2="1194.05" stroke="#000000" stroke-width="4"/>
<line x1="1476.3" y1="1174.74" x2="1486.8" y2="1174.74" stroke="#000000" stroke-width="4"/>
<line x1="1476.3" y1="1136.1" x2="1486.8" y2="1136.1" stroke="#000000" stroke-width="4"/>
<line x1="1476.3" y1="1116.79" x2="1486.8" y2="1116.79" stroke="#000000" stroke-width="4"/>
<line x1="1476.3" y1="1097.47" x2="1486.8" y2="1097.47" stroke="#000000" stroke-width="4"/>
<line x1="1476.3" y1="1078.16" x2="1486.8" y2="1078.16" stroke="#000000" stroke-width="4"/>
<line x1="1476.3" y1="1039.52" x2="1486.8" y2="1039.52" stroke="#000000" stroke-width="4"/>
<line x1="1476.3" y1="1020.21" x2="1486.8" y2="1020.21" stroke="#000000" stroke-width="4"/>
<line x1="1476.3" y1="1000.89" x2="1486.8" y2="1000.89" stroke="#000000" stroke-width="4"/>
<line x1="1476.3" y1="981.58" x2="1486.8" y2="981.58" stroke="#000000" stroke-width="4"/>
<line x1="1476.3" y1="942.94" x2="1486.8" y2="942.94" stroke="#000000" stroke-width="4"/>
<line x1="1476.3" y1="923.63" x2="1486.8" y2="923.63" stroke="#000000" stroke-width="4"/>
<line x1="1476.3" y1="904.31" x2="1486.8" y2="904.31" stroke="#000000" stroke-width="4"/>
<line x1="1476.3" y1="885" x2="1486.8" y2="885" stroke="#000000" stroke-width="4"/>
<line x1="1476.3" y1="846.36" x2="1486.8" y2="846.36" stroke="#000000" stroke-width="4"/>
<line x1="1476.3" y1="827.05" x2="1486.8" y2="827.05" stroke="#000000" stroke-width="4"/>
<line x1="1476.3" y1="807.73" x2="1486.8" y2="807.73" stroke="#000000" stroke-width="4"/>
<line x1="1476.3" y1="788.42" x2="1486.8" y2="788.42" stroke="#000000" stroke-width="4"/>
<line x1="1509.3" y1="1253.9" x2="1509.3" y2="1270.5" stroke="#000000" stroke-width="4"/>
<line x1="1543.85" y1="1253.9" x2="1543.85" y2="1270.5" stroke="#000000" stroke-width="4"/>
<line x1="1578.4" y1="1253.9" x2="1578.4" y2="1270.5" stroke="#000000" stroke-width="4"/>
<line x1="1612.95" y1="1253.9" x2="1612.95" y2="1270.5" stroke="#000000" stroke-width="4"/>
<line x1="1647.5" y1="1253.9" x2="1647.5" y2="1270.5" stroke="#000000" stroke-width="4"/>
<line x1="1682.05" y1="1253.9" x2="1682.05" y2="1270.5" stroke="#000000" stroke-width="4"/>
<line x1="1716.6" y1="1253.9" x2="1716.6" y2="1270.5" stroke="#000000" stroke-width="4"/>
<line x1="1751.15" y1="1253.9" x2="1751.15" y2="1270.5" stroke="#000000" stroke-width="4"/>
<line x1="1785.7" y1="1253.9" x2="1785.7" y2="1270.5" stroke="#000000" stroke-width="4"/>
<polygon points="1509.3,977.71 1503.22,989.59 1515.38,989.59" fill="none" stroke="#00bc00" stroke-width="3.7"/>
<polygon points="1509.3,1176.18 1503.22,1188.06 1515.38,1188.06" fill="none" stroke="#00bc00" stroke-width="3.7"/>
<polygon points="1504,1220.13 1497.92,1232.01 1510.08,1232.01" fill="none" stroke="#00bc00" stroke-width="3.7"/>
<polygon points="1515.1,1216.75 1509.02,1228.63 1521.18,1228.63" fill="none" stroke="#00bc00" stroke-width="3.7"/>
<circle cx="1543.85" cy="1123.55" r="6.4" fill="none" stroke="#0000ff" stroke-width="4"/>
<circle cx="1538.05" cy="1252" r="6.4" fill="none" stroke="#0000ff" stroke-width="4"/>
<circle cx="1543.85" cy="1249.59" r="6.4" fill="none" stroke="#0000ff" stroke-width="4"/>
<circle cx="1549.65" cy="1252" r="6.4" fill="none" stroke="#0000ff" stroke-width="4"/>
<rect x="1576.85" y="1170.6" width="13.1" height="13.1" fill="none" stroke="#ff0000" stroke-width="3.9"/>
<rect x="1566.85" y="1179.78" width="13.1" height="13.1" fill="none" stroke="#ff0000" stroke-width="3.9"/>
<rect x="1571.85" y="1233.38" width="13.1" height="13.1" fill="none" stroke="#ff0000" stroke-width="3.9"/>
<rect x="1571.85" y="1245.45" width="13.1" height="13.1" fill="none" stroke="#ff0000" stroke-width="3.9"/>
<polygon points="1618.15,1025.52 1612.07,1013.64 1624.23,1013.64" fill="none" stroke="#ab00e4" stroke-width="3.7"/>
<polygon points="1607.65,1034.7 1601.57,1022.82 1613.73,1022.82" fill="none" stroke="#ab00e4" stroke-width="3.7"/>
<polygon points="1607.65,1122.1 1601.57,1110.22 1613.73,1110.22" fill="none" stroke="#ab00e4" stroke-width="3.7"/>
<polygon points="1618.15,1118.24 1612.07,1106.36 1624.23,1106.36" fill="none" stroke="#ab00e4" stroke-width="3.7"/>
<polygon points="1647.5,842.02 1641.42,853.9 1653.58,853.9" fill="none" stroke="#00bc00" stroke-width="3.7"/>
<polygon points="1647.5,1152.04 1641.42,1163.92 1653.58,1163.92" fill="none" stroke="#00bc00" stroke-width="3.7"/>
<polygon points="1647.5,1216.75 1641.42,1228.63 1653.58,1228.63" fill="none" stroke="#00bc00" stroke-width="3.7"/>
<polygon points="1647.5,1247.17 1641.42,1259.05 1653.58,1259.05" fill="none" stroke="#00bc00" stroke-width="3.7"/>
<circle cx="1682.05" cy="987.85" r="6.4" fill="none" stroke="#0000ff" stroke-width="4"/>
<circle cx="1682.05" cy="1051.11" r="6.4" fill="none" stroke="#0000ff" stroke-width="4"/>
<circle cx="1676.55" cy="1252" r="6.4" fill="none" stroke="#0000ff" stroke-width="4"/>
<circle cx="1687.55" cy="1252" r="6.4" fill="none" stroke="#0000ff" stroke-width="4"/>
<rect x="1710.05" y="820.5" width="13.1" height="13.1" fill="none" stroke="#ff0000" stroke-width="3.9"/>
<rect x="1710.05" y="1195.23" width="13.1" height="13.1" fill="none" stroke="#ff0000" stroke-width="3.9"/>
<rect x="1704.55" y="1245.45" width="13.1" height="13.1" fill="none" stroke="#ff0000" stroke-width="3.9"/>
<rect x="1715.55" y="1245.45" width="13.1" height="13.1" fill="none" stroke="#ff0000" stroke-width="3.9"/>
<polygon points="1751.15,860.37 1745.07,848.49 1757.23,848.49" fill="none" stroke="#ab00e4" stroke-width="3.7"/>
<polygon points="1751.15,1065.12 1745.07,1053.24 1757.23,1053.24" fill="none" stroke="#ab00e4" stroke-width="3.7"/>
<polygon points="1751.15,1235.58 1745.07,1223.7 1757.23,1223.7" fill="none" stroke="#ab00e4" stroke-width="3.7"/>
<polygon points="1751.15,1256.83 1745.07,1244.95 1757.23,1244.95" fill="none" stroke="#ab00e4" stroke-width="3.7"/>
<circle cx="1785.7" cy="1104.23" r="6.6" fill="#000000"/>
<circle cx="1785.7" cy="1119.2" r="6.6" fill="#000000"/>
<circle cx="1780.7" cy="1252" r="6.6" fill="#000000"/>
<circle cx="1790.7" cy="1252" r="6.6" fill="#000000"/>
<line x1="1495.3" y1="1201.3" x2="1523.3" y2="1201.3" stroke="#00bc00" stroke-width="4.3"/>
<line x1="1529.85" y1="1252" x2="1557.85" y2="1252" stroke="#0000ff" stroke-width="4.3"/>
<line x1="1564.4" y1="1213.37" x2="1592.4" y2="1213.37" stroke="#ff0000" stroke-width="4.3"/>
<line x1="1598.95" y1="1071.88" x2="1626.95" y2="1071.88" stroke="#ab00e4" stroke-width="4.3"/>
<line x1="1633.5" y1="1189.22" x2="1661.5" y2="1189.22" stroke="#00bc00" stroke-width="4.3"/>
<line x1="1668.05" y1="1151.56" x2="1696.05" y2="1151.56" stroke="#0000ff" stroke-width="4.3"/>
<line x1="1702.6" y1="1226.89" x2="1730.6" y2="1226.89" stroke="#ff0000" stroke-width="4.3"/>
<line x1="1737.15" y1="1145.76" x2="1765.15" y2="1145.76" stroke="#ab00e4" stroke-width="4.3"/>
<line x1="1771.7" y1="1185.6" x2="1799.7" y2="1185.6" stroke="#000000" stroke-width="4.3"/>
<line x1="1506.3" y1="767.9" x2="1613.75" y2="767.9" stroke="#000000" stroke-width="2.3"/>
<text transform="translate(1560.53 748.1) scale(1 0.96)" font-size="26" text-anchor="middle">ns</text>
<line x1="1644.5" y1="767.9" x2="1751.95" y2="767.9" stroke="#000000" stroke-width="2.3"/>
<text transform="translate(1698.72 748.1) scale(1 0.96)" font-size="26" text-anchor="middle">ns</text>
<line x1="1509.3" y1="1288.5" x2="1612.95" y2="1288.5" stroke="#000000" stroke-width="2"/>
<line x1="1647.5" y1="1288.5" x2="1785.7" y2="1288.5" stroke="#000000" stroke-width="2"/>
<text transform="translate(1471.5 1333.2) scale(1 1.07)" font-size="28.8">1 × 10<tspan dy="-12" font-size="19.5">7</tspan><tspan dy="12"> PFU</tspan></text>
<text transform="translate(1649.1 1333.2) scale(1 1.07)" font-size="28.8">5 × 10<tspan dy="-12" font-size="19.5">7</tspan><tspan dy="12"> PFU</tspan></text>
<text transform="translate(1646.2 715) scale(1 1.04)" font-size="33.4" text-anchor="middle">IL-10/CD8</text>
<line x1="150" y1="1473.6" x2="150" y2="1961.5" stroke="#000000" stroke-width="4.2"/>
<line x1="132" y1="1959.5" x2="475" y2="1959.5" stroke="#000000" stroke-width="4"/>
<line x1="132" y1="1959.5" x2="150" y2="1959.5" stroke="#000000" stroke-width="4"/>
<text transform="translate(118.5 1969.9) scale(1 1.05)" font-size="29.2" text-anchor="end">0.00</text>
<line x1="132" y1="1798.2" x2="150" y2="1798.2" stroke="#000000" stroke-width="4"/>
<text transform="translate(118.5 1808.6) scale(1 1.05)" font-size="29.2" text-anchor="end">0.05</text>
<line x1="132" y1="1636.9" x2="150" y2="1636.9" stroke="#000000" stroke-width="4"/>
<text transform="translate(118.5 1647.3) scale(1 1.05)" font-size="29.2" text-anchor="end">0.10</text>
<line x1="132" y1="1475.6" x2="150" y2="1475.6" stroke="#000000" stroke-width="4"/>
<text transform="translate(118.5 1486) scale(1 1.05)" font-size="29.2" text-anchor="end">0.15</text>
<line x1="139.5" y1="1927.24" x2="150" y2="1927.24" stroke="#000000" stroke-width="4"/>
<line x1="139.5" y1="1894.98" x2="150" y2="1894.98" stroke="#000000" stroke-width="4"/>
<line x1="139.5" y1="1862.72" x2="150" y2="1862.72" stroke="#000000" stroke-width="4"/>
<line x1="139.5" y1="1830.46" x2="150" y2="1830.46" stroke="#000000" stroke-width="4"/>
<line x1="139.5" y1="1765.94" x2="150" y2="1765.94" stroke="#000000" stroke-width="4"/>
<line x1="139.5" y1="1733.68" x2="150" y2="1733.68" stroke="#000000" stroke-width="4"/>
<line x1="139.5" y1="1701.42" x2="150" y2="1701.42" stroke="#000000" stroke-width="4"/>
<line x1="139.5" y1="1669.16" x2="150" y2="1669.16" stroke="#000000" stroke-width="4"/>
<line x1="139.5" y1="1604.64" x2="150" y2="1604.64" stroke="#000000" stroke-width="4"/>
<line x1="139.5" y1="1572.38" x2="150" y2="1572.38" stroke="#000000" stroke-width="4"/>
<line x1="139.5" y1="1540.12" x2="150" y2="1540.12" stroke="#000000" stroke-width="4"/>
<line x1="139.5" y1="1507.86" x2="150" y2="1507.86" stroke="#000000" stroke-width="4"/>
<line x1="173.6" y1="1961.4" x2="173.6" y2="1978" stroke="#000000" stroke-width="4"/>
<line x1="208.15" y1="1961.4" x2="208.15" y2="1978" stroke="#000000" stroke-width="4"/>
<line x1="242.7" y1="1961.4" x2="242.7" y2="1978" stroke="#000000" stroke-width="4"/>
<line x1="277.25" y1="1961.4" x2="277.25" y2="1978" stroke="#000000" stroke-width="4"/>
<line x1="311.8" y1="1961.4" x2="311.8" y2="1978" stroke="#000000" stroke-width="4"/>
<line x1="346.35" y1="1961.4" x2="346.35" y2="1978" stroke="#000000" stroke-width="4"/>
<line x1="380.9" y1="1961.4" x2="380.9" y2="1978" stroke="#000000" stroke-width="4"/>
<line x1="415.45" y1="1961.4" x2="415.45" y2="1978" stroke="#000000" stroke-width="4"/>
<line x1="450" y1="1961.4" x2="450" y2="1978" stroke="#000000" stroke-width="4"/>
<polygon points="173.6,1764.98 167.52,1776.86 179.68,1776.86" fill="none" stroke="#00bc00" stroke-width="3.7"/>
<polygon points="173.6,1781.11 167.52,1792.99 179.68,1792.99" fill="none" stroke="#00bc00" stroke-width="3.7"/>
<polygon points="173.6,1877.89 167.52,1889.77 179.68,1889.77" fill="none" stroke="#00bc00" stroke-width="3.7"/>
<polygon points="173.6,1954.67 167.52,1966.55 179.68,1966.55" fill="none" stroke="#00bc00" stroke-width="3.7"/>
<circle cx="208.15" cy="1943.37" r="6.4" fill="none" stroke="#0000ff" stroke-width="4"/>
<circle cx="202.35" cy="1959.5" r="6.4" fill="none" stroke="#0000ff" stroke-width="4"/>
<circle cx="208.15" cy="1959.5" r="6.4" fill="none" stroke="#0000ff" stroke-width="4"/>
<circle cx="213.95" cy="1959.5" r="6.4" fill="none" stroke="#0000ff" stroke-width="4"/>
<rect x="236.15" y="1576.15" width="13.1" height="13.1" fill="none" stroke="#ff0000" stroke-width="3.9"/>
<rect x="236.15" y="1741" width="13.1" height="13.1" fill="none" stroke="#ff0000" stroke-width="3.9"/>
<rect x="236.15" y="1827.78" width="13.1" height="13.1" fill="none" stroke="#ff0000" stroke-width="3.9"/>
<rect x="236.15" y="1866.49" width="13.1" height="13.1" fill="none" stroke="#ff0000" stroke-width="3.9"/>
<polygon points="277.25,1725.61 271.17,1713.73 283.33,1713.73" fill="none" stroke="#ab00e4" stroke-width="3.7"/>
<polygon points="271.95,1964.33 265.87,1952.45 278.03,1952.45" fill="none" stroke="#ab00e4" stroke-width="3.7"/>
<polygon points="277.25,1964.33 271.17,1952.45 283.33,1952.45" fill="none" stroke="#ab00e4" stroke-width="3.7"/>
<polygon points="282.55,1964.33 276.47,1952.45 288.63,1952.45" fill="none" stroke="#ab00e4" stroke-width="3.7"/>
<polygon points="311.8,1636.26 305.72,1648.14 317.88,1648.14" fill="none" stroke="#00bc00" stroke-width="3.7"/>
<polygon points="311.8,1674.33 305.72,1686.21 317.88,1686.21" fill="none" stroke="#00bc00" stroke-width="3.7"/>
<polygon points="311.8,1820.15 305.72,1832.03 317.88,1832.03" fill="none" stroke="#00bc00" stroke-width="3.7"/>
<polygon points="311.8,1845.63 305.72,1857.51 317.88,1857.51" fill="none" stroke="#00bc00" stroke-width="3.7"/>
<circle cx="346.35" cy="1859.82" r="6.4" fill="none" stroke="#0000ff" stroke-width="4"/>
<circle cx="346.35" cy="1933.05" r="6.4" fill="none" stroke="#0000ff" stroke-width="4"/>
<circle cx="341.05" cy="1959.5" r="6.4" fill="none" stroke="#0000ff" stroke-width="4"/>
<circle cx="351.65" cy="1956.27" r="6.4" fill="none" stroke="#0000ff" stroke-width="4"/>
<rect x="369.05" y="1811.97" width="13.1" height="13.1" fill="none" stroke="#ff0000" stroke-width="3.9"/>
<rect x="379.65" y="1811.97" width="13.1" height="13.1" fill="none" stroke="#ff0000" stroke-width="3.9"/>
<rect x="374.35" y="1895.53" width="13.1" height="13.1" fill="none" stroke="#ff0000" stroke-width="3.9"/>
<rect x="374.35" y="1924.24" width="13.1" height="13.1" fill="none" stroke="#ff0000" stroke-width="3.9"/>
<polygon points="415.45,1706.25 409.37,1694.37 421.53,1694.37" fill="none" stroke="#ab00e4" stroke-width="3.7"/>
<polygon points="415.45,1737.86 409.37,1725.98 421.53,1725.98" fill="none" stroke="#ab00e4" stroke-width="3.7"/>
<polygon points="415.45,1793.67 409.37,1781.79 421.53,1781.79" fill="none" stroke="#ab00e4" stroke-width="3.7"/>
<polygon points="415.45,1964.33 409.37,1952.45 421.53,1952.45" fill="none" stroke="#ab00e4" stroke-width="3.7"/>
<circle cx="446" cy="1959.5" r="6.6" fill="#000000"/>
<circle cx="449" cy="1959.5" r="6.6" fill="#000000"/>
<circle cx="452" cy="1959.5" r="6.6" fill="#000000"/>
<circle cx="455" cy="1959.5" r="6.6" fill="#000000"/>
<line x1="159.6" y1="1834.33" x2="187.6" y2="1834.33" stroke="#00bc00" stroke-width="4.3"/>
<line x1="194.15" y1="1959.5" x2="222.15" y2="1959.5" stroke="#0000ff" stroke-width="4.3"/>
<line x1="228.7" y1="1790.78" x2="256.7" y2="1790.78" stroke="#ff0000" stroke-width="4.3"/>
<line x1="263.25" y1="1959.5" x2="291.25" y2="1959.5" stroke="#ab00e4" stroke-width="4.3"/>
<line x1="297.8" y1="1752.07" x2="325.8" y2="1752.07" stroke="#00bc00" stroke-width="4.3"/>
<line x1="332.35" y1="1944.66" x2="360.35" y2="1944.66" stroke="#0000ff" stroke-width="4.3"/>
<line x1="366.9" y1="1860.14" x2="394.9" y2="1860.14" stroke="#ff0000" stroke-width="4.3"/>
<line x1="401.45" y1="1760.78" x2="429.45" y2="1760.78" stroke="#ab00e4" stroke-width="4.3"/>
<line x1="436" y1="1959.5" x2="464" y2="1959.5" stroke="#000000" stroke-width="4.3"/>
<line x1="170.6" y1="1474.4" x2="278.05" y2="1474.4" stroke="#000000" stroke-width="2.3"/>
<text transform="translate(224.82 1457.6) scale(1 0.96)" font-size="26" text-anchor="middle">ns</text>
<line x1="308.8" y1="1474.4" x2="416.25" y2="1474.4" stroke="#000000" stroke-width="2.3"/>
<text transform="translate(363.02 1457.6) scale(1 0.96)" font-size="26" text-anchor="middle">ns</text>
<line x1="173.6" y1="1996" x2="277.25" y2="1996" stroke="#000000" stroke-width="2"/>
<line x1="311.8" y1="1996" x2="450" y2="1996" stroke="#000000" stroke-width="2"/>
<text transform="translate(138.6 2043.5) scale(1 1.07)" font-size="28.8">1 × 10<tspan dy="-12" font-size="19.5">7</tspan><tspan dy="12"> PFU</tspan></text>
<text transform="translate(316.6 2043.5) scale(1 1.07)" font-size="28.8">5 × 10<tspan dy="-12" font-size="19.5">7</tspan><tspan dy="12"> PFU</tspan></text>
<text transform="translate(312 1421.6) scale(1 1.04)" font-size="33.4" text-anchor="middle">IFN<tspan font-family="Liberation Serif" font-style="italic">γ</tspan>/CD4</text>
<line x1="594.6" y1="1473.6" x2="594.6" y2="1961.5" stroke="#000000" stroke-width="4.2"/>
<line x1="576.6" y1="1959.5" x2="919.5" y2="1959.5" stroke="#000000" stroke-width="4"/>
<line x1="576.6" y1="1959.5" x2="594.6" y2="1959.5" stroke="#000000" stroke-width="4"/>
<text transform="translate(563.1 1969.9) scale(1 1.05)" font-size="29.2" text-anchor="end">0.00</text>
<line x1="576.6" y1="1798.2" x2="594.6" y2="1798.2" stroke="#000000" stroke-width="4"/>
<text transform="translate(563.1 1808.6) scale(1 1.05)" font-size="29.2" text-anchor="end">0.05</text>
<line x1="576.6" y1="1636.9" x2="594.6" y2="1636.9" stroke="#000000" stroke-width="4"/>
<text transform="translate(563.1 1647.3) scale(1 1.05)" font-size="29.2" text-anchor="end">0.10</text>
<line x1="576.6" y1="1475.6" x2="594.6" y2="1475.6" stroke="#000000" stroke-width="4"/>
<text transform="translate(563.1 1486) scale(1 1.05)" font-size="29.2" text-anchor="end">0.15</text>
<line x1="584.1" y1="1927.24" x2="594.6" y2="1927.24" stroke="#000000" stroke-width="4"/>
<line x1="584.1" y1="1894.98" x2="594.6" y2="1894.98" stroke="#000000" stroke-width="4"/>
<line x1="584.1" y1="1862.72" x2="594.6" y2="1862.72" stroke="#000000" stroke-width="4"/>
<line x1="584.1" y1="1830.46" x2="594.6" y2="1830.46" stroke="#000000" stroke-width="4"/>
<line x1="584.1" y1="1765.94" x2="594.6" y2="1765.94" stroke="#000000" stroke-width="4"/>
<line x1="584.1" y1="1733.68" x2="594.6" y2="1733.68" stroke="#000000" stroke-width="4"/>
<line x1="584.1" y1="1701.42" x2="594.6" y2="1701.42" stroke="#000000" stroke-width="4"/>
<line x1="584.1" y1="1669.16" x2="594.6" y2="1669.16" stroke="#000000" stroke-width="4"/>
<line x1="584.1" y1="1604.64" x2="594.6" y2="1604.64" stroke="#000000" stroke-width="4"/>
<line x1="584.1" y1="1572.38" x2="594.6" y2="1572.38" stroke="#000000" stroke-width="4"/>
<line x1="584.1" y1="1540.12" x2="594.6" y2="1540.12" stroke="#000000" stroke-width="4"/>
<line x1="584.1" y1="1507.86" x2="594.6" y2="1507.86" stroke="#000000" stroke-width="4"/>
<line x1="617.3" y1="1961.4" x2="617.3" y2="1978" stroke="#000000" stroke-width="4"/>
<line x1="651.85" y1="1961.4" x2="651.85" y2="1978" stroke="#000000" stroke-width="4"/>
<line x1="686.4" y1="1961.4" x2="686.4" y2="1978" stroke="#000000" stroke-width="4"/>
<line x1="720.95" y1="1961.4" x2="720.95" y2="1978" stroke="#000000" stroke-width="4"/>
<line x1="755.5" y1="1961.4" x2="755.5" y2="1978" stroke="#000000" stroke-width="4"/>
<line x1="790.05" y1="1961.4" x2="790.05" y2="1978" stroke="#000000" stroke-width="4"/>
<line x1="824.6" y1="1961.4" x2="824.6" y2="1978" stroke="#000000" stroke-width="4"/>
<line x1="859.15" y1="1961.4" x2="859.15" y2="1978" stroke="#000000" stroke-width="4"/>
<line x1="893.7" y1="1961.4" x2="893.7" y2="1978" stroke="#000000" stroke-width="4"/>
<polygon points="617.3,1561.1 611.22,1572.98 623.38,1572.98" fill="none" stroke="#00bc00" stroke-width="3.7"/>
<polygon points="617.3,1625.94 611.22,1637.82 623.38,1637.82" fill="none" stroke="#00bc00" stroke-width="3.7"/>
<polygon points="617.3,1845.63 611.22,1857.51 623.38,1857.51" fill="none" stroke="#00bc00" stroke-width="3.7"/>
<polygon points="617.3,1954.67 611.22,1966.55 623.38,1966.55" fill="none" stroke="#00bc00" stroke-width="3.7"/>
<circle cx="651.85" cy="1817.88" r="6.4" fill="none" stroke="#0000ff" stroke-width="4"/>
<circle cx="651.85" cy="1921.76" r="6.4" fill="none" stroke="#0000ff" stroke-width="4"/>
<circle cx="646.55" cy="1959.5" r="6.4" fill="none" stroke="#0000ff" stroke-width="4"/>
<circle cx="657.15" cy="1959.5" r="6.4" fill="none" stroke="#0000ff" stroke-width="4"/>
<rect x="679.85" y="1520.67" width="13.1" height="13.1" fill="none" stroke="#ff0000" stroke-width="3.9"/>
<rect x="679.85" y="1936.82" width="13.1" height="13.1" fill="none" stroke="#ff0000" stroke-width="3.9"/>
<rect x="674.55" y="1952.95" width="13.1" height="13.1" fill="none" stroke="#ff0000" stroke-width="3.9"/>
<rect x="685.15" y="1952.95" width="13.1" height="13.1" fill="none" stroke="#ff0000" stroke-width="3.9"/>
<polygon points="714.95,1964.33 708.87,1952.45 721.03,1952.45" fill="none" stroke="#ab00e4" stroke-width="3.7"/>
<polygon points="718.95,1964.33 712.87,1952.45 725.03,1952.45" fill="none" stroke="#ab00e4" stroke-width="3.7"/>
<polygon points="722.95,1964.33 716.87,1952.45 729.03,1952.45" fill="none" stroke="#ab00e4" stroke-width="3.7"/>
<polygon points="726.95,1964.33 720.87,1952.45 733.03,1952.45" fill="none" stroke="#ab00e4" stroke-width="3.7"/>
<polygon points="755.5,1728.2 749.42,1740.08 761.58,1740.08" fill="none" stroke="#00bc00" stroke-width="3.7"/>
<polygon points="755.5,1910.47 749.42,1922.35 761.58,1922.35" fill="none" stroke="#00bc00" stroke-width="3.7"/>
<polygon points="750.2,1954.67 744.12,1966.55 756.28,1966.55" fill="none" stroke="#00bc00" stroke-width="3.7"/>
<polygon points="761.2,1954.67 755.12,1966.55 767.28,1966.55" fill="none" stroke="#00bc00" stroke-width="3.7"/>
<circle cx="790.05" cy="1819.17" r="6.4" fill="none" stroke="#0000ff" stroke-width="4"/>
<circle cx="790.05" cy="1895.63" r="6.4" fill="none" stroke="#0000ff" stroke-width="4"/>
<circle cx="784.75" cy="1959.5" r="6.4" fill="none" stroke="#0000ff" stroke-width="4"/>
<circle cx="795.35" cy="1959.5" r="6.4" fill="none" stroke="#0000ff" stroke-width="4"/>
<rect x="812.35" y="1726.48" width="13.1" height="13.1" fill="none" stroke="#ff0000" stroke-width="3.9"/>
<rect x="823.35" y="1726.48" width="13.1" height="13.1" fill="none" stroke="#ff0000" stroke-width="3.9"/>
<rect x="812.35" y="1895.53" width="13.1" height="13.1" fill="none" stroke="#ff0000" stroke-width="3.9"/>
<rect x="823.35" y="1895.53" width="13.1" height="13.1" fill="none" stroke="#ff0000" stroke-width="3.9"/>
<polygon points="859.15,1699.48 853.07,1687.6 865.23,1687.6" fill="none" stroke="#ab00e4" stroke-width="3.7"/>
<polygon points="859.15,1731.41 853.07,1719.53 865.23,1719.53" fill="none" stroke="#ab00e4" stroke-width="3.7"/>
<polygon points="859.15,1867.55 853.07,1855.67 865.23,1855.67" fill="none" stroke="#ab00e4" stroke-width="3.7"/>
<polygon points="859.15,1889.81 853.07,1877.93 865.23,1877.93" fill="none" stroke="#ab00e4" stroke-width="3.7"/>
<circle cx="893.7" cy="1789.17" r="6.6" fill="#000000"/>
<circle cx="888.7" cy="1959.5" r="6.6" fill="#000000"/>
<circle cx="893.7" cy="1959.5" r="6.6" fill="#000000"/>
<circle cx="898.7" cy="1959.5" r="6.6" fill="#000000"/>
<line x1="603.3" y1="1740.45" x2="631.3" y2="1740.45" stroke="#00bc00" stroke-width="4.3"/>
<line x1="637.85" y1="1940.79" x2="665.85" y2="1940.79" stroke="#0000ff" stroke-width="4.3"/>
<line x1="672.4" y1="1951.43" x2="700.4" y2="1951.43" stroke="#ff0000" stroke-width="4.3"/>
<line x1="706.95" y1="1959.5" x2="734.95" y2="1959.5" stroke="#ab00e4" stroke-width="4.3"/>
<line x1="741.5" y1="1937.24" x2="769.5" y2="1937.24" stroke="#00bc00" stroke-width="4.3"/>
<line x1="776.05" y1="1927.56" x2="804.05" y2="1927.56" stroke="#0000ff" stroke-width="4.3"/>
<line x1="810.6" y1="1817.56" x2="838.6" y2="1817.56" stroke="#ff0000" stroke-width="4.3"/>
<line x1="845.15" y1="1794.65" x2="873.15" y2="1794.65" stroke="#ab00e4" stroke-width="4.3"/>
<line x1="879.7" y1="1959.5" x2="907.7" y2="1959.5" stroke="#000000" stroke-width="4.3"/>
<line x1="614.3" y1="1474.4" x2="721.75" y2="1474.4" stroke="#000000" stroke-width="2.3"/>
<text transform="translate(668.52 1457.6) scale(1 0.96)" font-size="26" text-anchor="middle">ns</text>
<line x1="752.5" y1="1474.4" x2="859.95" y2="1474.4" stroke="#000000" stroke-width="2.3"/>
<text transform="translate(806.72 1457.6) scale(1 0.96)" font-size="26" text-anchor="middle">ns</text>
<line x1="617.3" y1="1996" x2="720.95" y2="1996" stroke="#000000" stroke-width="2"/>
<line x1="755.5" y1="1996" x2="893.7" y2="1996" stroke="#000000" stroke-width="2"/>
<text transform="translate(578.7 2043.5) scale(1 1.07)" font-size="28.8">1 × 10<tspan dy="-12" font-size="19.5">7</tspan><tspan dy="12"> PFU</tspan></text>
<text transform="translate(756.7 2043.5) scale(1 1.07)" font-size="28.8">5 × 10<tspan dy="-12" font-size="19.5">7</tspan><tspan dy="12"> PFU</tspan></text>
<text transform="translate(754 1421.6) scale(1 1.04)" font-size="33.4" text-anchor="middle">TNF<tspan font-family="Liberation Serif" font-style="italic">α</tspan>/CD4</text>
<line x1="1041.7" y1="1474.5" x2="1041.7" y2="1962.3" stroke="#000000" stroke-width="4.2"/>
<line x1="1023.7" y1="1960.3" x2="1365.6" y2="1960.3" stroke="#000000" stroke-width="4"/>
<line x1="1023.7" y1="1960.3" x2="1041.7" y2="1960.3" stroke="#000000" stroke-width="4"/>
<text transform="translate(1010.2 1970.7) scale(1 1.05)" font-size="29.2" text-anchor="end">0.00</text>
<line x1="1023.7" y1="1863.54" x2="1041.7" y2="1863.54" stroke="#000000" stroke-width="4"/>
<text transform="translate(1010.2 1873.94) scale(1 1.05)" font-size="29.2" text-anchor="end">0.05</text>
<line x1="1023.7" y1="1766.78" x2="1041.7" y2="1766.78" stroke="#000000" stroke-width="4"/>
<text transform="translate(1010.2 1777.18) scale(1 1.05)" font-size="29.2" text-anchor="end">0.10</text>
<line x1="1023.7" y1="1670.02" x2="1041.7" y2="1670.02" stroke="#000000" stroke-width="4"/>
<text transform="translate(1010.2 1680.42) scale(1 1.05)" font-size="29.2" text-anchor="end">0.15</text>
<line x1="1023.7" y1="1573.26" x2="1041.7" y2="1573.26" stroke="#000000" stroke-width="4"/>
<text transform="translate(1010.2 1583.66) scale(1 1.05)" font-size="29.2" text-anchor="end">0.20</text>
<line x1="1023.7" y1="1476.5" x2="1041.7" y2="1476.5" stroke="#000000" stroke-width="4"/>
<text transform="translate(1010.2 1486.9) scale(1 1.05)" font-size="29.2" text-anchor="end">0.25</text>
<line x1="1031.2" y1="1940.95" x2="1041.7" y2="1940.95" stroke="#000000" stroke-width="4"/>
<line x1="1031.2" y1="1921.6" x2="1041.7" y2="1921.6" stroke="#000000" stroke-width="4"/>
<line x1="1031.2" y1="1902.24" x2="1041.7" y2="1902.24" stroke="#000000" stroke-width="4"/>
<line x1="1031.2" y1="1882.89" x2="1041.7" y2="1882.89" stroke="#000000" stroke-width="4"/>
<line x1="1031.2" y1="1844.19" x2="1041.7" y2="1844.19" stroke="#000000" stroke-width="4"/>
<line x1="1031.2" y1="1824.84" x2="1041.7" y2="1824.84" stroke="#000000" stroke-width="4"/>
<line x1="1031.2" y1="1805.48" x2="1041.7" y2="1805.48" stroke="#000000" stroke-width="4"/>
<line x1="1031.2" y1="1786.13" x2="1041.7" y2="1786.13" stroke="#000000" stroke-width="4"/>
<line x1="1031.2" y1="1747.43" x2="1041.7" y2="1747.43" stroke="#000000" stroke-width="4"/>
<line x1="1031.2" y1="1728.08" x2="1041.7" y2="1728.08" stroke="#000000" stroke-width="4"/>
<line x1="1031.2" y1="1708.72" x2="1041.7" y2="1708.72" stroke="#000000" stroke-width="4"/>
<line x1="1031.2" y1="1689.37" x2="1041.7" y2="1689.37" stroke="#000000" stroke-width="4"/>
<line x1="1031.2" y1="1650.67" x2="1041.7" y2="1650.67" stroke="#000000" stroke-width="4"/>
<line x1="1031.2" y1="1631.32" x2="1041.7" y2="1631.32" stroke="#000000" stroke-width="4"/>
<line x1="1031.2" y1="1611.96" x2="1041.7" y2="1611.96" stroke="#000000" stroke-width="4"/>
<line x1="1031.2" y1="1592.61" x2="1041.7" y2="1592.61" stroke="#000000" stroke-width="4"/>
<line x1="1031.2" y1="1553.91" x2="1041.7" y2="1553.91" stroke="#000000" stroke-width="4"/>
<line x1="1031.2" y1="1534.56" x2="1041.7" y2="1534.56" stroke="#000000" stroke-width="4"/>
<line x1="1031.2" y1="1515.2" x2="1041.7" y2="1515.2" stroke="#000000" stroke-width="4"/>
<line x1="1031.2" y1="1495.85" x2="1041.7" y2="1495.85" stroke="#000000" stroke-width="4"/>
<line x1="1064.4" y1="1962.2" x2="1064.4" y2="1978.8" stroke="#000000" stroke-width="4"/>
<line x1="1098.95" y1="1962.2" x2="1098.95" y2="1978.8" stroke="#000000" stroke-width="4"/>
<line x1="1133.5" y1="1962.2" x2="1133.5" y2="1978.8" stroke="#000000" stroke-width="4"/>
<line x1="1168.05" y1="1962.2" x2="1168.05" y2="1978.8" stroke="#000000" stroke-width="4"/>
<line x1="1202.6" y1="1962.2" x2="1202.6" y2="1978.8" stroke="#000000" stroke-width="4"/>
<line x1="1237.15" y1="1962.2" x2="1237.15" y2="1978.8" stroke="#000000" stroke-width="4"/>
<line x1="1271.7" y1="1962.2" x2="1271.7" y2="1978.8" stroke="#000000" stroke-width="4"/>
<line x1="1306.25" y1="1962.2" x2="1306.25" y2="1978.8" stroke="#000000" stroke-width="4"/>
<line x1="1340.8" y1="1962.2" x2="1340.8" y2="1978.8" stroke="#000000" stroke-width="4"/>
<polygon points="1064.4,1704.47 1058.32,1716.35 1070.48,1716.35" fill="none" stroke="#00bc00" stroke-width="3.7"/>
<polygon points="1064.4,1863.55 1058.32,1875.43 1070.48,1875.43" fill="none" stroke="#00bc00" stroke-width="3.7"/>
<polygon points="1064.4,1919.48 1058.32,1931.36 1070.48,1931.36" fill="none" stroke="#00bc00" stroke-width="3.7"/>
<polygon points="1064.4,1955.47 1058.32,1967.35 1070.48,1967.35" fill="none" stroke="#00bc00" stroke-width="3.7"/>
<circle cx="1098.95" cy="1732.91" r="6.4" fill="none" stroke="#0000ff" stroke-width="4"/>
<circle cx="1098.95" cy="1857.93" r="6.4" fill="none" stroke="#0000ff" stroke-width="4"/>
<circle cx="1098.95" cy="1935.34" r="6.4" fill="none" stroke="#0000ff" stroke-width="4"/>
<circle cx="1098.95" cy="1960.3" r="6.4" fill="none" stroke="#0000ff" stroke-width="4"/>
<rect x="1126.95" y="1702.75" width="13.1" height="13.1" fill="none" stroke="#ff0000" stroke-width="3.9"/>
<rect x="1126.95" y="1877.12" width="13.1" height="13.1" fill="none" stroke="#ff0000" stroke-width="3.9"/>
<rect x="1121.95" y="1953.75" width="13.1" height="13.1" fill="none" stroke="#ff0000" stroke-width="3.9"/>
<rect x="1131.95" y="1952.4" width="13.1" height="13.1" fill="none" stroke="#ff0000" stroke-width="3.9"/>
<polygon points="1168.05,1559.51 1161.97,1547.63 1174.13,1547.63" fill="none" stroke="#ab00e4" stroke-width="3.7"/>
<polygon points="1168.05,1926.43 1161.97,1914.55 1174.13,1914.55" fill="none" stroke="#ab00e4" stroke-width="3.7"/>
<polygon points="1162.75,1965.13 1156.67,1953.25 1168.83,1953.25" fill="none" stroke="#ab00e4" stroke-width="3.7"/>
<polygon points="1173.35,1965.13 1167.27,1953.25 1179.43,1953.25" fill="none" stroke="#ab00e4" stroke-width="3.7"/>
<polygon points="1202.6,1667.71 1196.52,1679.59 1208.68,1679.59" fill="none" stroke="#00bc00" stroke-width="3.7"/>
<polygon points="1202.6,1706.6 1196.52,1718.48 1208.68,1718.48" fill="none" stroke="#00bc00" stroke-width="3.7"/>
<polygon points="1202.6,1863.16 1196.52,1875.04 1208.68,1875.04" fill="none" stroke="#00bc00" stroke-width="3.7"/>
<polygon points="1202.6,1955.47 1196.52,1967.35 1208.68,1967.35" fill="none" stroke="#00bc00" stroke-width="3.7"/>
<circle cx="1237.15" cy="1728.85" r="6.4" fill="none" stroke="#0000ff" stroke-width="4"/>
<circle cx="1230.65" cy="1960.3" r="6.4" fill="none" stroke="#0000ff" stroke-width="4"/>
<circle cx="1237.15" cy="1960.3" r="6.4" fill="none" stroke="#0000ff" stroke-width="4"/>
<circle cx="1243.65" cy="1960.3" r="6.4" fill="none" stroke="#0000ff" stroke-width="4"/>
<rect x="1265.15" y="1645.09" width="13.1" height="13.1" fill="none" stroke="#ff0000" stroke-width="3.9"/>
<rect x="1265.15" y="1895.5" width="13.1" height="13.1" fill="none" stroke="#ff0000" stroke-width="3.9"/>
<rect x="1259.45" y="1953.75" width="13.1" height="13.1" fill="none" stroke="#ff0000" stroke-width="3.9"/>
<rect x="1270.45" y="1953.75" width="13.1" height="13.1" fill="none" stroke="#ff0000" stroke-width="3.9"/>
<polygon points="1306.25,1723.23 1300.17,1711.35 1312.33,1711.35" fill="none" stroke="#ab00e4" stroke-width="3.7"/>
<polygon points="1306.25,1789.61 1300.17,1777.73 1312.33,1777.73" fill="none" stroke="#ab00e4" stroke-width="3.7"/>
<polygon points="1306.25,1950.04 1300.17,1938.16 1312.33,1938.16" fill="none" stroke="#ab00e4" stroke-width="3.7"/>
<polygon points="1306.25,1965.13 1300.17,1953.25 1312.33,1953.25" fill="none" stroke="#ab00e4" stroke-width="3.7"/>
<circle cx="1340.8" cy="1895.47" r="6.6" fill="#000000"/>
<circle cx="1340.8" cy="1925.47" r="6.6" fill="#000000"/>
<circle cx="1335.5" cy="1960.3" r="6.6" fill="#000000"/>
<circle cx="1346.1" cy="1960.3" r="6.6" fill="#000000"/>
<line x1="1050.4" y1="1896.44" x2="1078.4" y2="1896.44" stroke="#00bc00" stroke-width="4.3"/>
<line x1="1084.95" y1="1896.63" x2="1112.95" y2="1896.63" stroke="#0000ff" stroke-width="4.3"/>
<line x1="1119.5" y1="1921.6" x2="1147.5" y2="1921.6" stroke="#ff0000" stroke-width="4.3"/>
<line x1="1154.05" y1="1940.95" x2="1182.05" y2="1940.95" stroke="#ab00e4" stroke-width="4.3"/>
<line x1="1188.6" y1="1790" x2="1216.6" y2="1790" stroke="#00bc00" stroke-width="4.3"/>
<line x1="1223.15" y1="1960.3" x2="1251.15" y2="1960.3" stroke="#0000ff" stroke-width="4.3"/>
<line x1="1257.7" y1="1931.27" x2="1285.7" y2="1931.27" stroke="#ff0000" stroke-width="4.3"/>
<line x1="1292.25" y1="1865.09" x2="1320.25" y2="1865.09" stroke="#ab00e4" stroke-width="4.3"/>
<line x1="1326.8" y1="1942.88" x2="1354.8" y2="1942.88" stroke="#000000" stroke-width="4.3"/>
<line x1="1061.4" y1="1475.3" x2="1168.85" y2="1475.3" stroke="#000000" stroke-width="2.3"/>
<text transform="translate(1115.62 1458.5) scale(1 0.96)" font-size="26" text-anchor="middle">ns</text>
<line x1="1199.6" y1="1475.3" x2="1307.05" y2="1475.3" stroke="#000000" stroke-width="2.3"/>
<text transform="translate(1253.83 1458.5) scale(1 0.96)" font-size="26" text-anchor="middle">ns</text>
<line x1="1064.4" y1="1996.8" x2="1168.05" y2="1996.8" stroke="#000000" stroke-width="2"/>
<line x1="1202.6" y1="1996.8" x2="1340.8" y2="1996.8" stroke="#000000" stroke-width="2"/>
<text transform="translate(1028.4 2044.3) scale(1 1.07)" font-size="28.8">1 × 10<tspan dy="-12" font-size="19.5">7</tspan><tspan dy="12"> PFU</tspan></text>
<text transform="translate(1206.8 2044.3) scale(1 1.07)" font-size="28.8">5 × 10<tspan dy="-12" font-size="19.5">7</tspan><tspan dy="12"> PFU</tspan></text>
<text transform="translate(1203 1421.6) scale(1 1.04)" font-size="33.4" text-anchor="middle">IL-4/CD4</text>
<line x1="1490" y1="1472.5" x2="1490" y2="1961.6" stroke="#000000" stroke-width="4.2"/>
<line x1="1472" y1="1959.6" x2="1816.8" y2="1959.6" stroke="#000000" stroke-width="4"/>
<line x1="1472" y1="1959.6" x2="1490" y2="1959.6" stroke="#000000" stroke-width="4"/>
<text transform="translate(1458.5 1970) scale(1 1.05)" font-size="29.2" text-anchor="end">0.00</text>
<line x1="1472" y1="1862.58" x2="1490" y2="1862.58" stroke="#000000" stroke-width="4"/>
<text transform="translate(1458.5 1872.98) scale(1 1.05)" font-size="29.2" text-anchor="end">0.02</text>
<line x1="1472" y1="1765.56" x2="1490" y2="1765.56" stroke="#000000" stroke-width="4"/>
<text transform="translate(1458.5 1775.96) scale(1 1.05)" font-size="29.2" text-anchor="end">0.04</text>
<line x1="1472" y1="1668.54" x2="1490" y2="1668.54" stroke="#000000" stroke-width="4"/>
<text transform="translate(1458.5 1678.94) scale(1 1.05)" font-size="29.2" text-anchor="end">0.06</text>
<line x1="1472" y1="1571.52" x2="1490" y2="1571.52" stroke="#000000" stroke-width="4"/>
<text transform="translate(1458.5 1581.92) scale(1 1.05)" font-size="29.2" text-anchor="end">0.08</text>
<line x1="1472" y1="1474.5" x2="1490" y2="1474.5" stroke="#000000" stroke-width="4"/>
<text transform="translate(1458.5 1484.9) scale(1 1.05)" font-size="29.2" text-anchor="end">0.10</text>
<line x1="1479.5" y1="1940.2" x2="1490" y2="1940.2" stroke="#000000" stroke-width="4"/>
<line x1="1479.5" y1="1920.79" x2="1490" y2="1920.79" stroke="#000000" stroke-width="4"/>
<line x1="1479.5" y1="1901.39" x2="1490" y2="1901.39" stroke="#000000" stroke-width="4"/>
<line x1="1479.5" y1="1881.98" x2="1490" y2="1881.98" stroke="#000000" stroke-width="4"/>
<line x1="1479.5" y1="1843.18" x2="1490" y2="1843.18" stroke="#000000" stroke-width="4"/>
<line x1="1479.5" y1="1823.77" x2="1490" y2="1823.77" stroke="#000000" stroke-width="4"/>
<line x1="1479.5" y1="1804.37" x2="1490" y2="1804.37" stroke="#000000" stroke-width="4"/>
<line x1="1479.5" y1="1784.96" x2="1490" y2="1784.96" stroke="#000000" stroke-width="4"/>
<line x1="1479.5" y1="1746.16" x2="1490" y2="1746.16" stroke="#000000" stroke-width="4"/>
<line x1="1479.5" y1="1726.75" x2="1490" y2="1726.75" stroke="#000000" stroke-width="4"/>
<line x1="1479.5" y1="1707.35" x2="1490" y2="1707.35" stroke="#000000" stroke-width="4"/>
<line x1="1479.5" y1="1687.94" x2="1490" y2="1687.94" stroke="#000000" stroke-width="4"/>
<line x1="1479.5" y1="1649.14" x2="1490" y2="1649.14" stroke="#000000" stroke-width="4"/>
<line x1="1479.5" y1="1629.73" x2="1490" y2="1629.73" stroke="#000000" stroke-width="4"/>
<line x1="1479.5" y1="1610.33" x2="1490" y2="1610.33" stroke="#000000" stroke-width="4"/>
<line x1="1479.5" y1="1590.92" x2="1490" y2="1590.92" stroke="#000000" stroke-width="4"/>
<line x1="1479.5" y1="1552.12" x2="1490" y2="1552.12" stroke="#000000" stroke-width="4"/>
<line x1="1479.5" y1="1532.71" x2="1490" y2="1532.71" stroke="#000000" stroke-width="4"/>
<line x1="1479.5" y1="1513.31" x2="1490" y2="1513.31" stroke="#000000" stroke-width="4"/>
<line x1="1479.5" y1="1493.9" x2="1490" y2="1493.9" stroke="#000000" stroke-width="4"/>
<line x1="1513.6" y1="1961.5" x2="1513.6" y2="1978.1" stroke="#000000" stroke-width="4"/>
<line x1="1548.15" y1="1961.5" x2="1548.15" y2="1978.1" stroke="#000000" stroke-width="4"/>
<line x1="1582.7" y1="1961.5" x2="1582.7" y2="1978.1" stroke="#000000" stroke-width="4"/>
<line x1="1617.25" y1="1961.5" x2="1617.25" y2="1978.1" stroke="#000000" stroke-width="4"/>
<line x1="1651.8" y1="1961.5" x2="1651.8" y2="1978.1" stroke="#000000" stroke-width="4"/>
<line x1="1686.35" y1="1961.5" x2="1686.35" y2="1978.1" stroke="#000000" stroke-width="4"/>
<line x1="1720.9" y1="1961.5" x2="1720.9" y2="1978.1" stroke="#000000" stroke-width="4"/>
<line x1="1755.45" y1="1961.5" x2="1755.45" y2="1978.1" stroke="#000000" stroke-width="4"/>
<line x1="1790" y1="1961.5" x2="1790" y2="1978.1" stroke="#000000" stroke-width="4"/>
<polygon points="1513.6,1886.86 1507.52,1898.74 1519.68,1898.74" fill="none" stroke="#00bc00" stroke-width="3.7"/>
<polygon points="1513.6,1919.36 1507.52,1931.24 1519.68,1931.24" fill="none" stroke="#00bc00" stroke-width="3.7"/>
<polygon points="1513.6,1935.37 1507.52,1947.25 1519.68,1947.25" fill="none" stroke="#00bc00" stroke-width="3.7"/>
<polygon points="1513.6,1954.77 1507.52,1966.65 1519.68,1966.65" fill="none" stroke="#00bc00" stroke-width="3.7"/>
<circle cx="1548.15" cy="1912.06" r="6.4" fill="none" stroke="#0000ff" stroke-width="4"/>
<circle cx="1548.15" cy="1945.05" r="6.4" fill="none" stroke="#0000ff" stroke-width="4"/>
<circle cx="1542.35" cy="1959.6" r="6.4" fill="none" stroke="#0000ff" stroke-width="4"/>
<circle cx="1553.45" cy="1959.6" r="6.4" fill="none" stroke="#0000ff" stroke-width="4"/>
<rect x="1581.45" y="1895.81" width="13.1" height="13.1" fill="none" stroke="#ff0000" stroke-width="3.9"/>
<rect x="1570.85" y="1899.69" width="13.1" height="13.1" fill="none" stroke="#ff0000" stroke-width="3.9"/>
<rect x="1570.85" y="1953.05" width="13.1" height="13.1" fill="none" stroke="#ff0000" stroke-width="3.9"/>
<rect x="1581.45" y="1953.05" width="13.1" height="13.1" fill="none" stroke="#ff0000" stroke-width="3.9"/>
<polygon points="1617.25,1885.84 1611.17,1873.96 1623.33,1873.96" fill="none" stroke="#ab00e4" stroke-width="3.7"/>
<polygon points="1617.25,1915.43 1611.17,1903.55 1623.33,1903.55" fill="none" stroke="#ab00e4" stroke-width="3.7"/>
<polygon points="1611.45,1964.43 1605.37,1952.55 1617.53,1952.55" fill="none" stroke="#ab00e4" stroke-width="3.7"/>
<polygon points="1622.55,1964.43 1616.47,1952.55 1628.63,1952.55" fill="none" stroke="#ab00e4" stroke-width="3.7"/>
<polygon points="1651.8,1794.69 1645.72,1806.57 1657.88,1806.57" fill="none" stroke="#00bc00" stroke-width="3.7"/>
<polygon points="1651.8,1905.29 1645.72,1917.17 1657.88,1917.17" fill="none" stroke="#00bc00" stroke-width="3.7"/>
<polygon points="1646.5,1954.77 1640.42,1966.65 1652.58,1966.65" fill="none" stroke="#00bc00" stroke-width="3.7"/>
<polygon points="1657.1,1954.77 1651.02,1966.65 1663.18,1966.65" fill="none" stroke="#00bc00" stroke-width="3.7"/>
<circle cx="1686.35" cy="1873.25" r="6.4" fill="none" stroke="#0000ff" stroke-width="4"/>
<circle cx="1686.35" cy="1891.69" r="6.4" fill="none" stroke="#0000ff" stroke-width="4"/>
<circle cx="1680.55" cy="1959.6" r="6.4" fill="none" stroke="#0000ff" stroke-width="4"/>
<circle cx="1691.65" cy="1959.6" r="6.4" fill="none" stroke="#0000ff" stroke-width="4"/>
<rect x="1714.35" y="1917.15" width="13.1" height="13.1" fill="none" stroke="#ff0000" stroke-width="3.9"/>
<rect x="1708.35" y="1953.05" width="13.1" height="13.1" fill="none" stroke="#ff0000" stroke-width="3.9"/>
<rect x="1714.35" y="1953.05" width="13.1" height="13.1" fill="none" stroke="#ff0000" stroke-width="3.9"/>
<rect x="1720.35" y="1953.05" width="13.1" height="13.1" fill="none" stroke="#ff0000" stroke-width="3.9"/>
<polygon points="1755.45,1736.92 1749.37,1725.04 1761.53,1725.04" fill="none" stroke="#ab00e4" stroke-width="3.7"/>
<polygon points="1760.75,1851.89 1754.67,1840.01 1766.83,1840.01" fill="none" stroke="#ab00e4" stroke-width="3.7"/>
<polygon points="1750.75,1862.56 1744.67,1850.68 1756.83,1850.68" fill="none" stroke="#ab00e4" stroke-width="3.7"/>
<polygon points="1755.45,1964.43 1749.37,1952.55 1761.53,1952.55" fill="none" stroke="#ab00e4" stroke-width="3.7"/>
<circle cx="1786" cy="1959.6" r="6.6" fill="#000000"/>
<circle cx="1789" cy="1959.6" r="6.6" fill="#000000"/>
<circle cx="1792" cy="1959.6" r="6.6" fill="#000000"/>
<circle cx="1795" cy="1959.6" r="6.6" fill="#000000"/>
<line x1="1499.6" y1="1932.43" x2="1527.6" y2="1932.43" stroke="#00bc00" stroke-width="4.3"/>
<line x1="1534.15" y1="1952.32" x2="1562.15" y2="1952.32" stroke="#0000ff" stroke-width="4.3"/>
<line x1="1568.7" y1="1932.92" x2="1596.7" y2="1932.92" stroke="#ff0000" stroke-width="4.3"/>
<line x1="1603.25" y1="1935.34" x2="1631.25" y2="1935.34" stroke="#ab00e4" stroke-width="4.3"/>
<line x1="1637.8" y1="1934.86" x2="1665.8" y2="1934.86" stroke="#00bc00" stroke-width="4.3"/>
<line x1="1672.35" y1="1925.64" x2="1700.35" y2="1925.64" stroke="#0000ff" stroke-width="4.3"/>
<line x1="1706.9" y1="1959.6" x2="1734.9" y2="1959.6" stroke="#ff0000" stroke-width="4.3"/>
<line x1="1741.45" y1="1852.39" x2="1769.45" y2="1852.39" stroke="#ab00e4" stroke-width="4.3"/>
<line x1="1776" y1="1959.6" x2="1804" y2="1959.6" stroke="#000000" stroke-width="4.3"/>
<line x1="1510.6" y1="1473.3" x2="1618.05" y2="1473.3" stroke="#000000" stroke-width="2.3"/>
<text transform="translate(1564.82 1456.5) scale(1 0.96)" font-size="26" text-anchor="middle">ns</text>
<line x1="1648.8" y1="1473.3" x2="1756.25" y2="1473.3" stroke="#000000" stroke-width="2.3"/>
<text transform="translate(1703.02 1456.5) scale(1 0.96)" font-size="26" text-anchor="middle">ns</text>
<line x1="1513.6" y1="1996.1" x2="1617.25" y2="1996.1" stroke="#000000" stroke-width="2"/>
<line x1="1651.8" y1="1996.1" x2="1790" y2="1996.1" stroke="#000000" stroke-width="2"/>
<text transform="translate(1475.7 2043.6) scale(1 1.07)" font-size="28.8">1 × 10<tspan dy="-12" font-size="19.5">7</tspan><tspan dy="12"> PFU</tspan></text>
<text transform="translate(1654 2043.6) scale(1 1.07)" font-size="28.8">5 × 10<tspan dy="-12" font-size="19.5">7</tspan><tspan dy="12"> PFU</tspan></text>
<text transform="translate(1654.4 1421.6) scale(1 1.04)" font-size="33.4" text-anchor="middle">IL-10/CD4</text>
<polygon points="1835,229.47 1828.92,241.35 1841.08,241.35" fill="none" stroke="#00bc00" stroke-width="3.7"/>
<text transform="translate(1858.5 242.6) scale(1 1.06)" font-size="25">sMVA hp</text>
<circle cx="1835" cy="285.5" r="6.4" fill="none" stroke="#0000ff" stroke-width="4"/>
<text transform="translate(1858.5 293.8) scale(1 1.06)" font-size="25">sMVA tv1</text>
<rect x="1828.45" y="330.15" width="13.1" height="13.1" fill="none" stroke="#ff0000" stroke-width="3.9"/>
<text transform="translate(1858.5 345) scale(1 1.06)" font-size="25">sMVA tv2</text>
<polygon points="1835,392.73 1828.92,380.85 1841.08,380.85" fill="none" stroke="#ab00e4" stroke-width="3.7"/>
<text transform="translate(1858.5 396.2) scale(1 1.06)" font-size="25">wtMVA</text>
<circle cx="1835" cy="439.1" r="6.6" fill="#000000"/>
<text transform="translate(1858.5 447.4) scale(1 1.06)" font-size="25">Mock</text>
<polygon points="1867.7,900.97 1861.62,912.85 1873.78,912.85" fill="none" stroke="#00bc00" stroke-width="3.7"/>
<text transform="translate(1893.5 914.1) scale(1 1.06)" font-size="25">sMVA hp</text>
<circle cx="1867.7" cy="957.4" r="6.4" fill="none" stroke="#0000ff" stroke-width="4"/>
<text transform="translate(1893.5 965.7) scale(1 1.06)" font-size="25">sMVA tv1</text>
<rect x="1861.15" y="1002.45" width="13.1" height="13.1" fill="none" stroke="#ff0000" stroke-width="3.9"/>
<text transform="translate(1893.5 1017.3) scale(1 1.06)" font-size="25">sMVA tv2</text>
<polygon points="1867.7,1065.43 1861.62,1053.55 1873.78,1053.55" fill="none" stroke="#ab00e4" stroke-width="3.7"/>
<text transform="translate(1893.5 1068.9) scale(1 1.06)" font-size="25">wtMVA</text>
<circle cx="1867.7" cy="1112.2" r="6.6" fill="#000000"/>
<text transform="translate(1893.5 1120.5) scale(1 1.06)" font-size="25">Mock</text>
<polygon points="1876,1619.67 1869.92,1631.55 1882.08,1631.55" fill="none" stroke="#00bc00" stroke-width="3.7"/>
<text transform="translate(1898.5 1632.8) scale(1 1.06)" font-size="24.5">sMVA hp</text>
<circle cx="1876" cy="1679.5" r="6.4" fill="none" stroke="#0000ff" stroke-width="4"/>
<text transform="translate(1898.5 1687.8) scale(1 1.06)" font-size="24.5">sMVA tv1</text>
<rect x="1869.45" y="1727.95" width="13.1" height="13.1" fill="none" stroke="#ff0000" stroke-width="3.9"/>
<text transform="translate(1898.5 1742.8) scale(1 1.06)" font-size="24.5">sMVA tv2</text>
<polygon points="1876,1794.33 1869.92,1782.45 1882.08,1782.45" fill="none" stroke="#ab00e4" stroke-width="3.7"/>
<text transform="translate(1898.5 1797.8) scale(1 1.06)" font-size="24.5">wtMVA</text>
<circle cx="1876" cy="1844.5" r="6.6" fill="#000000"/>
<text transform="translate(1898.5 1852.8) scale(1 1.06)" font-size="24.5">Mock</text>
<text transform="translate(-1.5 31.3) scale(0.92 1)" font-size="43" font-weight="bold">a</text>
<text transform="translate(1239.6 31.8) scale(1 1.02)" font-size="43" font-weight="bold">b</text>
<text x="-0.6" y="700.9" font-size="43" font-weight="bold">c</text>
<text transform="translate(-0.4 1423.8) scale(1.04 1)" font-size="43" font-weight="bold">d</text>
<text transform="translate(78.8 332.9) rotate(-90) scale(1 1.05)" font-size="29.3" text-anchor="middle">Log<tspan dy="7" font-size="19.5">10</tspan><tspan dy="-7"> endpoint titer</tspan></text>
<text transform="translate(1265.2 332.5) rotate(-90) scale(1 1.05)" font-size="30" text-anchor="middle">Log<tspan dy="7" font-size="19.5">10</tspan><tspan dy="-7"> NT50</tspan></text>
<text transform="translate(67.4 1010.3) rotate(-90) scale(1 1.05)" font-size="29.3" text-anchor="middle">% CD3<tspan dy="-11" font-size="19.5">+</tspan><tspan dy="11">/CD8</tspan><tspan dy="-11" font-size="19.5">+</tspan><tspan dy="11"> lymphocytes</tspan></text>
<text transform="translate(37.2 1718) rotate(-90) scale(1 1.05)" font-size="29.3" text-anchor="middle">% CD3<tspan dy="-11" font-size="19.5">+</tspan><tspan dy="11">/CD4</tspan><tspan dy="-11" font-size="19.5">+</tspan><tspan dy="11"> lymphocytes</tspan></text></svg>
</body></html>
